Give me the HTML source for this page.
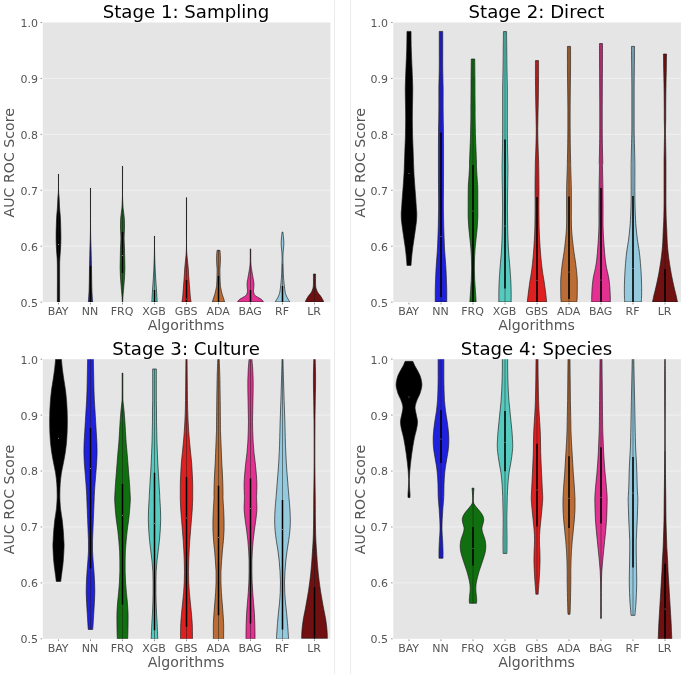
<!DOCTYPE html>
<html lang="en"><head><meta charset="utf-8"><title>AUC ROC violin plots</title>
<style>
html,body{margin:0;padding:0;background:#fff;}
svg{display:block;}
text{font-family:"DejaVu Sans","Liberation Sans",sans-serif;}
.tk{font-size:11px;fill:#555555;}
.lb{font-size:14.15px;fill:#555555;}
.ti{font-size:18.15px;fill:#000000;}
</style></head><body>
<svg width="685" height="674" viewBox="0 0 685 674">
<defs><clipPath id="axclip"><rect x="42.80" y="22.50" width="287.60" height="279.60"/></clipPath></defs>
<rect width="685" height="674" fill="#ffffff"/>
<line x1="334.5" y1="0" x2="334.5" y2="674" stroke="#ececec" stroke-width="1"/>
<line x1="350.5" y1="0" x2="350.5" y2="674" stroke="#ececec" stroke-width="1"/>
<g transform="translate(0.00 0.00)">
<rect x="42.80" y="22.50" width="287.60" height="279.60" fill="#e5e5e5"/>
<line x1="40.60" y1="302.10" x2="42.10" y2="302.10" stroke="#666" stroke-width="0.7"/>
<text class="tk" x="37.90" y="306.50" text-anchor="end">0.5</text>
<line x1="42.80" y1="246.18" x2="330.40" y2="246.18" stroke="#ffffff" stroke-width="0.8" stroke-opacity="0.6"/>
<line x1="40.60" y1="246.18" x2="42.10" y2="246.18" stroke="#666" stroke-width="0.7"/>
<text class="tk" x="37.90" y="250.58" text-anchor="end">0.6</text>
<line x1="42.80" y1="190.26" x2="330.40" y2="190.26" stroke="#ffffff" stroke-width="0.8" stroke-opacity="0.6"/>
<line x1="40.60" y1="190.26" x2="42.10" y2="190.26" stroke="#666" stroke-width="0.7"/>
<text class="tk" x="37.90" y="194.66" text-anchor="end">0.7</text>
<line x1="42.80" y1="134.34" x2="330.40" y2="134.34" stroke="#ffffff" stroke-width="0.8" stroke-opacity="0.6"/>
<line x1="40.60" y1="134.34" x2="42.10" y2="134.34" stroke="#666" stroke-width="0.7"/>
<text class="tk" x="37.90" y="138.74" text-anchor="end">0.8</text>
<line x1="42.80" y1="78.42" x2="330.40" y2="78.42" stroke="#ffffff" stroke-width="0.8" stroke-opacity="0.6"/>
<line x1="40.60" y1="78.42" x2="42.10" y2="78.42" stroke="#666" stroke-width="0.7"/>
<text class="tk" x="37.90" y="82.82" text-anchor="end">0.9</text>
<line x1="40.60" y1="22.50" x2="42.10" y2="22.50" stroke="#666" stroke-width="0.7"/>
<text class="tk" x="37.90" y="26.90" text-anchor="end">1.0</text>
<line x1="58.50" y1="302.70" x2="58.50" y2="304.40" stroke="#666" stroke-width="0.7"/>
<text class="tk" x="58.10" y="315.20" text-anchor="middle">BAY</text>
<line x1="90.50" y1="302.70" x2="90.50" y2="304.40" stroke="#666" stroke-width="0.7"/>
<text class="tk" x="90.10" y="315.20" text-anchor="middle">NN</text>
<line x1="122.50" y1="302.70" x2="122.50" y2="304.40" stroke="#666" stroke-width="0.7"/>
<text class="tk" x="122.10" y="315.20" text-anchor="middle">FRQ</text>
<line x1="154.50" y1="302.70" x2="154.50" y2="304.40" stroke="#666" stroke-width="0.7"/>
<text class="tk" x="154.10" y="315.20" text-anchor="middle">XGB</text>
<line x1="186.50" y1="302.70" x2="186.50" y2="304.40" stroke="#666" stroke-width="0.7"/>
<text class="tk" x="186.10" y="315.20" text-anchor="middle">GBS</text>
<line x1="218.50" y1="302.70" x2="218.50" y2="304.40" stroke="#666" stroke-width="0.7"/>
<text class="tk" x="218.10" y="315.20" text-anchor="middle">ADA</text>
<line x1="250.50" y1="302.70" x2="250.50" y2="304.40" stroke="#666" stroke-width="0.7"/>
<text class="tk" x="250.10" y="315.20" text-anchor="middle">BAG</text>
<line x1="282.50" y1="302.70" x2="282.50" y2="304.40" stroke="#666" stroke-width="0.7"/>
<text class="tk" x="282.10" y="315.20" text-anchor="middle">RF</text>
<line x1="314.50" y1="302.70" x2="314.50" y2="304.40" stroke="#666" stroke-width="0.7"/>
<text class="tk" x="314.10" y="315.20" text-anchor="middle">LR</text>
<g clip-path="url(#axclip)">
<path d="M58.55 174.00 C58.55 176.67 58.45 186.00 58.55 190.00 C58.65 194.00 58.96 195.00 59.14 198.00 C59.31 201.00 59.38 204.67 59.59 208.00 C59.80 211.33 60.17 213.33 60.39 218.00 C60.61 222.67 60.86 231.00 60.89 236.00 C60.92 241.00 60.76 244.33 60.59 248.00 C60.42 251.67 60.05 254.67 59.89 258.00 C59.73 261.33 59.68 260.67 59.64 268.00 C59.60 275.33 59.64 296.33 59.64 302.00 L57.36 302.00 C57.36 296.33 57.40 275.33 57.36 268.00 C57.32 260.67 57.27 261.33 57.11 258.00 C56.95 254.67 56.58 251.67 56.41 248.00 C56.24 244.33 56.08 241.00 56.11 236.00 C56.14 231.00 56.39 222.67 56.61 218.00 C56.83 213.33 57.20 211.33 57.41 208.00 C57.62 204.67 57.69 201.00 57.86 198.00 C58.04 195.00 58.35 194.00 58.45 190.00 C58.55 186.00 58.45 176.67 58.45 174.00 Z" fill="#000000" stroke="#1a1a1a" stroke-width="0.65" stroke-linejoin="round"/>
<line x1="58.50" y1="174.00" x2="58.50" y2="302.00" stroke="#1a1a1a" stroke-width="0.55" stroke-opacity="0.9"/>
<circle cx="58.50" cy="244.60" r="0.5" fill="#ffffff" fill-opacity="0.65"/>
<path d="M90.55 188.00 C90.55 194.67 90.47 218.00 90.55 228.00 C90.63 238.00 90.89 242.00 91.04 248.00 C91.19 254.00 91.31 257.33 91.44 264.00 C91.57 270.67 91.64 281.67 91.84 288.00 C92.04 294.33 92.51 299.67 92.64 302.00 L88.36 302.00 C88.49 299.67 88.96 294.33 89.16 288.00 C89.36 281.67 89.43 270.67 89.56 264.00 C89.69 257.33 89.81 254.00 89.96 248.00 C90.11 242.00 90.37 238.00 90.45 228.00 C90.53 218.00 90.45 194.67 90.45 188.00 Z" fill="#2020DF" stroke="#1a1a1a" stroke-width="0.65" stroke-linejoin="round"/>
<line x1="90.50" y1="188.00" x2="90.50" y2="302.00" stroke="#1a1a1a" stroke-width="0.55" stroke-opacity="0.9"/>
<line x1="90.50" y1="266.00" x2="90.50" y2="302.00" stroke="#000000" stroke-width="1.50"/>
<path d="M122.55 166.00 C122.55 169.67 122.55 182.67 122.55 188.00 C122.55 193.33 122.48 194.67 122.58 198.00 C122.67 201.33 122.80 204.67 123.09 208.00 C123.38 211.33 124.06 214.67 124.29 218.00 C124.52 221.33 124.52 224.67 124.49 228.00 C124.46 231.33 124.09 234.67 124.09 238.00 C124.09 241.33 124.39 244.67 124.49 248.00 C124.59 251.33 124.62 254.67 124.69 258.00 C124.76 261.33 124.92 264.67 124.89 268.00 C124.86 271.33 124.69 274.67 124.49 278.00 C124.29 281.33 123.96 284.67 123.69 288.00 C123.42 291.33 123.01 295.67 122.85 298.00 C122.69 300.33 122.75 301.33 122.73 302.00 L122.27 302.00 C122.25 301.33 122.31 300.33 122.15 298.00 C121.99 295.67 121.58 291.33 121.31 288.00 C121.04 284.67 120.71 281.33 120.51 278.00 C120.31 274.67 120.14 271.33 120.11 268.00 C120.08 264.67 120.24 261.33 120.31 258.00 C120.38 254.67 120.41 251.33 120.51 248.00 C120.61 244.67 120.91 241.33 120.91 238.00 C120.91 234.67 120.54 231.33 120.51 228.00 C120.48 224.67 120.48 221.33 120.71 218.00 C120.94 214.67 121.62 211.33 121.91 208.00 C122.20 204.67 122.33 201.33 122.42 198.00 C122.52 194.67 122.45 193.33 122.45 188.00 C122.45 182.67 122.45 169.67 122.45 166.00 Z" fill="#107010" stroke="#1a1a1a" stroke-width="0.65" stroke-linejoin="round"/>
<line x1="122.50" y1="166.00" x2="122.50" y2="302.00" stroke="#1a1a1a" stroke-width="0.55" stroke-opacity="0.9"/>
<line x1="122.50" y1="232.00" x2="122.50" y2="273.00" stroke="#000000" stroke-width="1.50"/>
<circle cx="122.50" cy="255.40" r="0.5" fill="#ffffff" fill-opacity="0.65"/>
<path d="M154.55 236.00 C154.55 238.00 154.52 244.33 154.55 248.00 C154.58 251.67 154.64 254.67 154.74 258.00 C154.84 261.33 154.99 264.67 155.14 268.00 C155.29 271.33 155.44 274.67 155.64 278.00 C155.84 281.33 156.14 285.00 156.34 288.00 C156.54 291.00 156.71 293.67 156.84 296.00 C156.97 298.33 157.09 301.00 157.14 302.00 L151.86 302.00 C151.91 301.00 152.03 298.33 152.16 296.00 C152.29 293.67 152.46 291.00 152.66 288.00 C152.86 285.00 153.16 281.33 153.36 278.00 C153.56 274.67 153.71 271.33 153.86 268.00 C154.01 264.67 154.16 261.33 154.26 258.00 C154.36 254.67 154.42 251.67 154.45 248.00 C154.48 244.33 154.45 238.00 154.45 236.00 Z" fill="#56CABF" stroke="#1a1a1a" stroke-width="0.65" stroke-linejoin="round"/>
<line x1="154.50" y1="236.00" x2="154.50" y2="302.00" stroke="#1a1a1a" stroke-width="0.55" stroke-opacity="0.9"/>
<line x1="154.50" y1="290.00" x2="154.50" y2="302.00" stroke="#000000" stroke-width="1.50"/>
<path d="M186.55 197.60 C186.55 202.67 186.55 219.60 186.55 228.00 C186.55 236.40 186.44 243.00 186.55 248.00 C186.67 253.00 186.96 254.67 187.24 258.00 C187.52 261.33 187.97 264.67 188.24 268.00 C188.51 271.33 188.61 274.67 188.84 278.00 C189.07 281.33 189.41 285.00 189.64 288.00 C189.87 291.00 190.01 293.67 190.24 296.00 C190.47 298.33 190.91 301.00 191.04 302.00 L181.96 302.00 C182.09 301.00 182.53 298.33 182.76 296.00 C182.99 293.67 183.13 291.00 183.36 288.00 C183.59 285.00 183.93 281.33 184.16 278.00 C184.39 274.67 184.49 271.33 184.76 268.00 C185.03 264.67 185.48 261.33 185.76 258.00 C186.04 254.67 186.33 253.00 186.45 248.00 C186.56 243.00 186.45 236.40 186.45 228.00 C186.45 219.60 186.45 202.67 186.45 197.60 Z" fill="#DF2020" stroke="#1a1a1a" stroke-width="0.65" stroke-linejoin="round"/>
<line x1="186.50" y1="197.60" x2="186.50" y2="302.00" stroke="#1a1a1a" stroke-width="0.55" stroke-opacity="0.9"/>
<line x1="186.50" y1="280.00" x2="186.50" y2="302.00" stroke="#000000" stroke-width="1.50"/>
<circle cx="186.50" cy="299.00" r="0.5" fill="#ffffff" fill-opacity="0.65"/>
<path d="M219.94 250.30 C220.01 251.15 220.27 253.35 220.34 255.40 C220.41 257.45 220.42 260.22 220.34 262.60 C220.26 264.98 219.95 267.32 219.89 269.70 C219.83 272.08 219.92 274.50 219.99 276.90 C220.06 279.30 220.16 282.25 220.29 284.10 C220.41 285.95 220.55 286.80 220.74 288.00 C220.93 289.20 221.19 290.22 221.44 291.30 C221.69 292.38 221.96 293.53 222.24 294.50 C222.52 295.47 222.86 296.27 223.14 297.10 C223.42 297.93 223.71 298.68 223.94 299.50 C224.17 300.32 224.44 301.58 224.54 302.00 L212.46 302.00 C212.56 301.58 212.83 300.32 213.06 299.50 C213.29 298.68 213.58 297.93 213.86 297.10 C214.14 296.27 214.48 295.47 214.76 294.50 C215.04 293.53 215.31 292.38 215.56 291.30 C215.81 290.22 216.07 289.20 216.26 288.00 C216.45 286.80 216.59 285.95 216.71 284.10 C216.84 282.25 216.94 279.30 217.01 276.90 C217.08 274.50 217.17 272.08 217.11 269.70 C217.05 267.32 216.74 264.98 216.66 262.60 C216.58 260.22 216.59 257.45 216.66 255.40 C216.73 253.35 216.99 251.15 217.06 250.30 Z" fill="#BB6D35" stroke="#1a1a1a" stroke-width="0.65" stroke-linejoin="round"/>
<line x1="218.50" y1="250.00" x2="218.50" y2="302.00" stroke="#1a1a1a" stroke-width="0.55" stroke-opacity="0.9"/>
<line x1="218.50" y1="276.00" x2="218.50" y2="302.00" stroke="#000000" stroke-width="1.50"/>
<path d="M250.74 248.90 C250.74 250.42 250.72 255.72 250.74 258.00 C250.76 260.28 250.77 261.27 250.84 262.60 C250.91 263.93 251.01 264.82 251.14 266.00 C251.27 267.18 251.35 267.88 251.64 269.70 C251.93 271.52 252.56 275.02 252.89 276.90 C253.22 278.78 253.46 279.80 253.64 281.00 C253.81 282.20 253.92 282.93 253.94 284.10 C253.96 285.27 253.81 286.80 253.74 288.00 C253.67 289.20 253.41 290.27 253.49 291.30 C253.57 292.33 253.91 293.45 254.24 294.20 C254.57 294.95 254.95 295.32 255.49 295.80 C256.03 296.28 256.56 296.53 257.49 297.10 C258.42 297.67 260.23 298.62 261.09 299.20 C261.95 299.78 262.26 300.13 262.64 300.60 C263.01 301.07 263.22 301.77 263.34 302.00 L237.66 302.00 C237.78 301.77 237.99 301.07 238.36 300.60 C238.74 300.13 239.05 299.78 239.91 299.20 C240.77 298.62 242.58 297.67 243.51 297.10 C244.44 296.53 244.97 296.28 245.51 295.80 C246.05 295.32 246.43 294.95 246.76 294.20 C247.09 293.45 247.43 292.33 247.51 291.30 C247.59 290.27 247.33 289.20 247.26 288.00 C247.19 286.80 247.04 285.27 247.06 284.10 C247.08 282.93 247.19 282.20 247.36 281.00 C247.54 279.80 247.78 278.78 248.11 276.90 C248.44 275.02 249.07 271.52 249.36 269.70 C249.65 267.88 249.73 267.18 249.86 266.00 C249.99 264.82 250.09 263.93 250.16 262.60 C250.23 261.27 250.24 260.28 250.26 258.00 C250.28 255.72 250.26 250.42 250.26 248.90 Z" fill="#E23191" stroke="#1a1a1a" stroke-width="0.65" stroke-linejoin="round"/>
<line x1="250.50" y1="249.00" x2="250.50" y2="302.00" stroke="#1a1a1a" stroke-width="0.55" stroke-opacity="0.9"/>
<line x1="250.50" y1="290.00" x2="250.50" y2="302.00" stroke="#000000" stroke-width="1.50"/>
<path d="M282.84 232.00 C282.96 233.00 283.37 236.00 283.54 238.00 C283.71 240.00 283.87 242.00 283.84 244.00 C283.81 246.00 283.49 248.00 283.34 250.00 C283.19 252.00 282.99 253.67 282.94 256.00 C282.89 258.33 282.96 260.67 283.04 264.00 C283.12 267.33 283.26 272.67 283.44 276.00 C283.62 279.33 283.86 281.33 284.14 284.00 C284.42 286.67 284.76 290.00 285.14 292.00 C285.52 294.00 285.96 294.83 286.44 296.00 C286.92 297.17 287.47 298.00 288.04 299.00 C288.61 300.00 289.54 301.50 289.84 302.00 L275.16 302.00 C275.46 301.50 276.39 300.00 276.96 299.00 C277.53 298.00 278.08 297.17 278.56 296.00 C279.04 294.83 279.48 294.00 279.86 292.00 C280.24 290.00 280.58 286.67 280.86 284.00 C281.14 281.33 281.38 279.33 281.56 276.00 C281.74 272.67 281.88 267.33 281.96 264.00 C282.04 260.67 282.11 258.33 282.06 256.00 C282.01 253.67 281.81 252.00 281.66 250.00 C281.51 248.00 281.19 246.00 281.16 244.00 C281.13 242.00 281.29 240.00 281.46 238.00 C281.63 236.00 282.04 233.00 282.16 232.00 Z" fill="#94C9DE" stroke="#1a1a1a" stroke-width="0.65" stroke-linejoin="round"/>
<line x1="282.50" y1="264.00" x2="282.50" y2="302.00" stroke="#1a1a1a" stroke-width="0.55" stroke-opacity="0.9"/>
<line x1="282.50" y1="286.00" x2="282.50" y2="302.00" stroke="#000000" stroke-width="1.50"/>
<path d="M315.54 274.00 C315.54 275.00 315.52 278.07 315.54 280.00 C315.56 281.93 315.54 284.18 315.64 285.60 C315.74 287.02 315.89 287.55 316.14 288.50 C316.39 289.45 316.74 290.47 317.14 291.30 C317.54 292.13 318.02 292.78 318.54 293.50 C319.06 294.22 319.64 294.77 320.24 295.60 C320.84 296.43 321.66 297.68 322.14 298.50 C322.62 299.32 322.89 299.92 323.14 300.50 C323.39 301.08 323.56 301.75 323.64 302.00 L305.36 302.00 C305.44 301.75 305.61 301.08 305.86 300.50 C306.11 299.92 306.38 299.32 306.86 298.50 C307.34 297.68 308.16 296.43 308.76 295.60 C309.36 294.77 309.94 294.22 310.46 293.50 C310.98 292.78 311.46 292.13 311.86 291.30 C312.26 290.47 312.61 289.45 312.86 288.50 C313.11 287.55 313.26 287.02 313.36 285.60 C313.46 284.18 313.44 281.93 313.46 280.00 C313.48 278.07 313.46 275.00 313.46 274.00 Z" fill="#701010" stroke="#1a1a1a" stroke-width="0.65" stroke-linejoin="round"/>
<line x1="314.50" y1="274.00" x2="314.50" y2="302.00" stroke="#1a1a1a" stroke-width="0.55" stroke-opacity="0.9"/>
</g>
<text class="ti" x="186.00" y="18.00" text-anchor="middle">Stage 1: Sampling</text>
<text class="lb" x="186.00" y="330.10" text-anchor="middle">Algorithms</text>
<text class="lb" transform="translate(14.40 162.80) rotate(-90)" text-anchor="middle">AUC ROC Score</text>
</g>
<g transform="translate(350.50 0.00)">
<rect x="42.80" y="22.50" width="287.60" height="279.60" fill="#e5e5e5"/>
<line x1="40.60" y1="302.10" x2="42.10" y2="302.10" stroke="#666" stroke-width="0.7"/>
<text class="tk" x="37.50" y="306.50" text-anchor="end">0.5</text>
<line x1="42.80" y1="246.18" x2="330.40" y2="246.18" stroke="#ffffff" stroke-width="0.8" stroke-opacity="0.6"/>
<line x1="40.60" y1="246.18" x2="42.10" y2="246.18" stroke="#666" stroke-width="0.7"/>
<text class="tk" x="37.50" y="250.58" text-anchor="end">0.6</text>
<line x1="42.80" y1="190.26" x2="330.40" y2="190.26" stroke="#ffffff" stroke-width="0.8" stroke-opacity="0.6"/>
<line x1="40.60" y1="190.26" x2="42.10" y2="190.26" stroke="#666" stroke-width="0.7"/>
<text class="tk" x="37.50" y="194.66" text-anchor="end">0.7</text>
<line x1="42.80" y1="134.34" x2="330.40" y2="134.34" stroke="#ffffff" stroke-width="0.8" stroke-opacity="0.6"/>
<line x1="40.60" y1="134.34" x2="42.10" y2="134.34" stroke="#666" stroke-width="0.7"/>
<text class="tk" x="37.50" y="138.74" text-anchor="end">0.8</text>
<line x1="42.80" y1="78.42" x2="330.40" y2="78.42" stroke="#ffffff" stroke-width="0.8" stroke-opacity="0.6"/>
<line x1="40.60" y1="78.42" x2="42.10" y2="78.42" stroke="#666" stroke-width="0.7"/>
<text class="tk" x="37.50" y="82.82" text-anchor="end">0.9</text>
<line x1="40.60" y1="22.50" x2="42.10" y2="22.50" stroke="#666" stroke-width="0.7"/>
<text class="tk" x="37.50" y="26.90" text-anchor="end">1.0</text>
<line x1="58.50" y1="302.70" x2="58.50" y2="304.40" stroke="#666" stroke-width="0.7"/>
<text class="tk" x="58.10" y="315.20" text-anchor="middle">BAY</text>
<line x1="90.50" y1="302.70" x2="90.50" y2="304.40" stroke="#666" stroke-width="0.7"/>
<text class="tk" x="90.10" y="315.20" text-anchor="middle">NN</text>
<line x1="122.50" y1="302.70" x2="122.50" y2="304.40" stroke="#666" stroke-width="0.7"/>
<text class="tk" x="122.10" y="315.20" text-anchor="middle">FRQ</text>
<line x1="154.50" y1="302.70" x2="154.50" y2="304.40" stroke="#666" stroke-width="0.7"/>
<text class="tk" x="154.10" y="315.20" text-anchor="middle">XGB</text>
<line x1="186.50" y1="302.70" x2="186.50" y2="304.40" stroke="#666" stroke-width="0.7"/>
<text class="tk" x="186.10" y="315.20" text-anchor="middle">GBS</text>
<line x1="218.50" y1="302.70" x2="218.50" y2="304.40" stroke="#666" stroke-width="0.7"/>
<text class="tk" x="218.10" y="315.20" text-anchor="middle">ADA</text>
<line x1="250.50" y1="302.70" x2="250.50" y2="304.40" stroke="#666" stroke-width="0.7"/>
<text class="tk" x="250.10" y="315.20" text-anchor="middle">BAG</text>
<line x1="282.50" y1="302.70" x2="282.50" y2="304.40" stroke="#666" stroke-width="0.7"/>
<text class="tk" x="282.10" y="315.20" text-anchor="middle">RF</text>
<line x1="314.50" y1="302.70" x2="314.50" y2="304.40" stroke="#666" stroke-width="0.7"/>
<text class="tk" x="314.10" y="315.20" text-anchor="middle">LR</text>
<g clip-path="url(#axclip)">
<path d="M60.54 31.40 C60.57 34.17 60.57 41.90 60.74 48.00 C60.91 54.10 61.34 63.00 61.54 68.00 C61.74 73.00 61.82 74.67 61.94 78.00 C62.06 81.33 62.21 84.67 62.24 88.00 C62.27 91.33 62.19 94.67 62.14 98.00 C62.09 101.33 61.99 104.67 61.94 108.00 C61.89 111.33 61.84 114.67 61.84 118.00 C61.84 121.33 61.89 124.67 61.94 128.00 C61.99 131.33 62.04 134.67 62.14 138.00 C62.24 141.33 62.36 143.00 62.54 148.00 C62.72 153.00 63.04 163.00 63.24 168.00 C63.44 173.00 63.54 174.67 63.74 178.00 C63.94 181.33 64.19 184.67 64.44 188.00 C64.69 191.33 64.98 194.67 65.23 198.00 C65.47 201.33 65.72 205.50 65.89 208.00 C66.07 210.50 66.24 211.00 66.27 213.00 C66.30 215.00 66.29 217.50 66.09 220.00 C65.89 222.50 65.49 225.00 65.09 228.00 C64.69 231.00 64.14 234.67 63.66 238.00 C63.18 241.33 62.62 244.67 62.19 248.00 C61.76 251.33 61.35 255.10 61.08 258.00 C60.80 260.90 60.63 264.17 60.54 265.40 L56.46 265.40 C56.37 264.17 56.20 260.90 55.92 258.00 C55.65 255.10 55.24 251.33 54.81 248.00 C54.38 244.67 53.82 241.33 53.34 238.00 C52.86 234.67 52.31 231.00 51.91 228.00 C51.51 225.00 51.11 222.50 50.91 220.00 C50.71 217.50 50.70 215.00 50.73 213.00 C50.76 211.00 50.93 210.50 51.11 208.00 C51.28 205.50 51.53 201.33 51.77 198.00 C52.02 194.67 52.31 191.33 52.56 188.00 C52.81 184.67 53.06 181.33 53.26 178.00 C53.46 174.67 53.56 173.00 53.76 168.00 C53.96 163.00 54.28 153.00 54.46 148.00 C54.64 143.00 54.76 141.33 54.86 138.00 C54.96 134.67 55.01 131.33 55.06 128.00 C55.11 124.67 55.16 121.33 55.16 118.00 C55.16 114.67 55.11 111.33 55.06 108.00 C55.01 104.67 54.91 101.33 54.86 98.00 C54.81 94.67 54.73 91.33 54.76 88.00 C54.79 84.67 54.94 81.33 55.06 78.00 C55.18 74.67 55.26 73.00 55.46 68.00 C55.66 63.00 56.09 54.10 56.26 48.00 C56.43 41.90 56.43 34.17 56.46 31.40 Z" fill="#000000" stroke="#1a1a1a" stroke-width="0.65" stroke-linejoin="round"/>
<circle cx="58.50" cy="173.40" r="0.5" fill="#ffffff" fill-opacity="0.65"/>
<path d="M92.24 31.40 C92.24 34.17 92.24 41.90 92.24 48.00 C92.24 54.10 92.17 61.33 92.24 68.00 C92.31 74.67 92.57 83.00 92.64 88.00 C92.71 93.00 92.64 94.67 92.64 98.00 C92.64 101.33 92.62 104.67 92.64 108.00 C92.66 111.33 92.69 114.67 92.74 118.00 C92.79 121.33 92.89 123.00 92.94 128.00 C92.99 133.00 93.02 141.33 93.04 148.00 C93.06 154.67 93.05 161.33 93.04 168.00 C93.03 174.67 93.02 181.33 92.99 188.00 C92.96 194.67 92.81 201.33 92.86 208.00 C92.90 214.67 93.06 221.33 93.25 228.00 C93.44 234.67 93.63 241.33 93.99 248.00 C94.35 254.67 95.03 261.33 95.40 268.00 C95.77 274.67 96.06 282.33 96.21 288.00 C96.35 293.67 96.23 299.67 96.24 302.00 L84.76 302.00 C84.77 299.67 84.65 293.67 84.79 288.00 C84.94 282.33 85.23 274.67 85.60 268.00 C85.97 261.33 86.65 254.67 87.01 248.00 C87.37 241.33 87.56 234.67 87.75 228.00 C87.94 221.33 88.10 214.67 88.14 208.00 C88.19 201.33 88.04 194.67 88.01 188.00 C87.98 181.33 87.97 174.67 87.96 168.00 C87.95 161.33 87.94 154.67 87.96 148.00 C87.98 141.33 88.01 133.00 88.06 128.00 C88.11 123.00 88.21 121.33 88.26 118.00 C88.31 114.67 88.34 111.33 88.36 108.00 C88.38 104.67 88.36 101.33 88.36 98.00 C88.36 94.67 88.29 93.00 88.36 88.00 C88.43 83.00 88.69 74.67 88.76 68.00 C88.83 61.33 88.76 54.10 88.76 48.00 C88.76 41.90 88.76 34.17 88.76 31.40 Z" fill="#2020DF" stroke="#1a1a1a" stroke-width="0.65" stroke-linejoin="round"/>
<line x1="90.50" y1="31.40" x2="90.50" y2="302.00" stroke="#1a1a1a" stroke-width="0.55" stroke-opacity="0.9"/>
<line x1="90.50" y1="132.40" x2="90.50" y2="297.00" stroke="#000000" stroke-width="1.50"/>
<circle cx="90.50" cy="236.60" r="0.5" fill="#ffffff" fill-opacity="0.65"/>
<path d="M124.24 59.00 C124.27 62.17 124.39 71.50 124.44 78.00 C124.49 84.50 124.51 93.00 124.54 98.00 C124.57 103.00 124.62 104.67 124.64 108.00 C124.66 111.33 124.57 113.00 124.64 118.00 C124.71 123.00 124.91 133.00 125.04 138.00 C125.17 143.00 125.29 144.00 125.44 148.00 C125.59 152.00 125.84 158.67 125.94 162.00 C126.04 165.33 125.92 165.33 126.04 168.00 C126.16 170.67 126.44 174.67 126.64 178.00 C126.84 181.33 127.12 183.00 127.24 188.00 C127.36 193.00 127.32 203.00 127.33 208.00 C127.34 213.00 127.42 214.67 127.31 218.00 C127.20 221.33 126.96 224.67 126.69 228.00 C126.41 231.33 126.00 234.67 125.66 238.00 C125.32 241.33 124.91 244.67 124.64 248.00 C124.37 251.33 124.19 254.67 124.06 258.00 C123.94 261.33 123.88 264.67 123.89 268.00 C123.89 271.33 123.97 274.67 124.11 278.00 C124.25 281.33 124.48 284.00 124.73 288.00 C124.99 292.00 125.48 299.67 125.63 302.00 L119.37 302.00 C119.52 299.67 120.01 292.00 120.27 288.00 C120.52 284.00 120.75 281.33 120.89 278.00 C121.03 274.67 121.11 271.33 121.11 268.00 C121.12 264.67 121.06 261.33 120.94 258.00 C120.81 254.67 120.63 251.33 120.36 248.00 C120.09 244.67 119.68 241.33 119.34 238.00 C119.00 234.67 118.59 231.33 118.31 228.00 C118.04 224.67 117.80 221.33 117.69 218.00 C117.58 214.67 117.66 213.00 117.67 208.00 C117.68 203.00 117.64 193.00 117.76 188.00 C117.88 183.00 118.16 181.33 118.36 178.00 C118.56 174.67 118.84 170.67 118.96 168.00 C119.08 165.33 118.96 165.33 119.06 162.00 C119.16 158.67 119.41 152.00 119.56 148.00 C119.71 144.00 119.83 143.00 119.96 138.00 C120.09 133.00 120.29 123.00 120.36 118.00 C120.43 113.00 120.34 111.33 120.36 108.00 C120.38 104.67 120.43 103.00 120.46 98.00 C120.49 93.00 120.51 84.50 120.56 78.00 C120.61 71.50 120.73 62.17 120.76 59.00 Z" fill="#107010" stroke="#1a1a1a" stroke-width="0.65" stroke-linejoin="round"/>
<line x1="122.50" y1="59.00" x2="122.50" y2="302.00" stroke="#1a1a1a" stroke-width="0.55" stroke-opacity="0.9"/>
<line x1="122.50" y1="165.00" x2="122.50" y2="302.00" stroke="#000000" stroke-width="1.50"/>
<circle cx="122.50" cy="211.00" r="0.5" fill="#ffffff" fill-opacity="0.65"/>
<path d="M156.04 31.60 C156.07 34.33 156.17 41.93 156.24 48.00 C156.31 54.07 156.34 61.33 156.44 68.00 C156.54 74.67 156.77 81.33 156.84 88.00 C156.91 94.67 156.84 101.33 156.84 108.00 C156.84 114.67 156.81 121.33 156.84 128.00 C156.87 134.67 156.96 142.33 157.04 148.00 C157.12 153.67 157.27 158.67 157.34 162.00 C157.41 165.33 157.47 163.67 157.44 168.00 C157.41 172.33 157.26 181.33 157.17 188.00 C157.08 194.67 156.92 201.33 156.92 208.00 C156.92 214.67 157.02 221.33 157.18 228.00 C157.33 234.67 157.48 241.33 157.85 248.00 C158.23 254.67 159.02 262.33 159.43 268.00 C159.85 273.67 160.15 278.00 160.35 282.00 C160.55 286.00 160.61 288.67 160.66 292.00 C160.71 295.33 160.64 300.33 160.64 302.00 L148.36 302.00 C148.36 300.33 148.29 295.33 148.34 292.00 C148.39 288.67 148.45 286.00 148.65 282.00 C148.85 278.00 149.15 273.67 149.57 268.00 C149.98 262.33 150.77 254.67 151.15 248.00 C151.52 241.33 151.67 234.67 151.82 228.00 C151.98 221.33 152.08 214.67 152.08 208.00 C152.08 201.33 151.92 194.67 151.83 188.00 C151.74 181.33 151.59 172.33 151.56 168.00 C151.53 163.67 151.59 165.33 151.66 162.00 C151.73 158.67 151.88 153.67 151.96 148.00 C152.04 142.33 152.13 134.67 152.16 128.00 C152.19 121.33 152.16 114.67 152.16 108.00 C152.16 101.33 152.09 94.67 152.16 88.00 C152.23 81.33 152.46 74.67 152.56 68.00 C152.66 61.33 152.69 54.07 152.76 48.00 C152.83 41.93 152.93 34.33 152.96 31.60 Z" fill="#56CABF" stroke="#1a1a1a" stroke-width="0.65" stroke-linejoin="round"/>
<line x1="154.50" y1="31.60" x2="154.50" y2="302.00" stroke="#1a1a1a" stroke-width="0.55" stroke-opacity="0.9"/>
<line x1="154.50" y1="139.60" x2="154.50" y2="288.60" stroke="#000000" stroke-width="1.50"/>
<circle cx="154.50" cy="226.00" r="0.5" fill="#ffffff" fill-opacity="0.65"/>
<path d="M188.04 60.60 C188.04 63.50 188.07 71.77 188.04 78.00 C188.01 84.23 187.94 91.33 187.84 98.00 C187.74 104.67 187.54 112.33 187.44 118.00 C187.34 123.67 187.21 127.00 187.24 132.00 C187.27 137.00 187.49 143.00 187.64 148.00 C187.79 153.00 188.04 158.67 188.14 162.00 C188.24 165.33 188.18 163.67 188.24 168.00 C188.30 172.33 188.46 181.33 188.48 188.00 C188.50 194.67 188.34 201.33 188.37 208.00 C188.40 214.67 188.43 221.33 188.64 228.00 C188.85 234.67 189.16 241.33 189.64 248.00 C190.12 254.67 190.82 262.33 191.50 268.00 C192.17 273.67 193.09 278.00 193.68 282.00 C194.27 286.00 194.64 288.67 195.05 292.00 C195.47 295.33 196.00 300.33 196.18 302.00 L176.82 302.00 C177.00 300.33 177.53 295.33 177.95 292.00 C178.36 288.67 178.73 286.00 179.32 282.00 C179.91 278.00 180.83 273.67 181.50 268.00 C182.18 262.33 182.88 254.67 183.36 248.00 C183.84 241.33 184.15 234.67 184.36 228.00 C184.57 221.33 184.60 214.67 184.63 208.00 C184.66 201.33 184.50 194.67 184.52 188.00 C184.54 181.33 184.70 172.33 184.76 168.00 C184.82 163.67 184.76 165.33 184.86 162.00 C184.96 158.67 185.21 153.00 185.36 148.00 C185.51 143.00 185.73 137.00 185.76 132.00 C185.79 127.00 185.66 123.67 185.56 118.00 C185.46 112.33 185.26 104.67 185.16 98.00 C185.06 91.33 184.99 84.23 184.96 78.00 C184.93 71.77 184.96 63.50 184.96 60.60 Z" fill="#DF2020" stroke="#1a1a1a" stroke-width="0.65" stroke-linejoin="round"/>
<line x1="186.50" y1="60.60" x2="186.50" y2="302.00" stroke="#1a1a1a" stroke-width="0.55" stroke-opacity="0.9"/>
<line x1="186.50" y1="197.00" x2="186.50" y2="302.00" stroke="#000000" stroke-width="1.50"/>
<circle cx="186.50" cy="280.40" r="0.5" fill="#ffffff" fill-opacity="0.65"/>
<path d="M220.04 46.40 C220.04 50.00 220.07 61.07 220.04 68.00 C220.01 74.93 219.91 81.33 219.84 88.00 C219.77 94.67 219.67 101.33 219.64 108.00 C219.61 114.67 219.61 121.33 219.64 128.00 C219.67 134.67 219.76 142.33 219.84 148.00 C219.92 153.67 220.07 158.67 220.14 162.00 C220.21 165.33 220.12 163.67 220.24 168.00 C220.36 172.33 220.73 181.33 220.84 188.00 C220.94 194.67 220.86 201.33 220.89 208.00 C220.92 214.67 220.66 221.33 220.99 228.00 C221.33 234.67 222.18 242.00 222.88 248.00 C223.59 254.00 224.61 259.00 225.24 264.00 C225.87 269.00 226.39 274.00 226.65 278.00 C226.91 282.00 226.80 284.67 226.80 288.00 C226.79 291.33 226.73 295.67 226.64 298.00 C226.55 300.33 226.31 301.33 226.24 302.00 L210.76 302.00 C210.69 301.33 210.45 300.33 210.36 298.00 C210.27 295.67 210.21 291.33 210.20 288.00 C210.20 284.67 210.09 282.00 210.35 278.00 C210.61 274.00 211.13 269.00 211.76 264.00 C212.39 259.00 213.41 254.00 214.12 248.00 C214.82 242.00 215.67 234.67 216.01 228.00 C216.34 221.33 216.08 214.67 216.11 208.00 C216.14 201.33 216.06 194.67 216.16 188.00 C216.27 181.33 216.64 172.33 216.76 168.00 C216.88 163.67 216.79 165.33 216.86 162.00 C216.93 158.67 217.08 153.67 217.16 148.00 C217.24 142.33 217.33 134.67 217.36 128.00 C217.39 121.33 217.39 114.67 217.36 108.00 C217.33 101.33 217.23 94.67 217.16 88.00 C217.09 81.33 216.99 74.93 216.96 68.00 C216.93 61.07 216.96 50.00 216.96 46.40 Z" fill="#BB6D35" stroke="#1a1a1a" stroke-width="0.65" stroke-linejoin="round"/>
<line x1="218.50" y1="46.40" x2="218.50" y2="302.00" stroke="#1a1a1a" stroke-width="0.55" stroke-opacity="0.9"/>
<line x1="218.50" y1="196.40" x2="218.50" y2="299.00" stroke="#000000" stroke-width="1.50"/>
<circle cx="218.50" cy="272.00" r="0.5" fill="#ffffff" fill-opacity="0.65"/>
<path d="M252.04 43.60 C252.02 47.67 251.97 60.60 251.94 68.00 C251.91 75.40 251.87 81.33 251.84 88.00 C251.81 94.67 251.76 101.33 251.74 108.00 C251.72 114.67 251.71 121.33 251.74 128.00 C251.77 134.67 251.86 142.33 251.94 148.00 C252.02 153.67 252.22 158.67 252.24 162.00 C252.26 165.33 252.01 163.67 252.04 168.00 C252.07 172.33 252.33 181.33 252.41 188.00 C252.50 194.67 252.53 201.33 252.56 208.00 C252.59 214.67 252.40 221.33 252.59 228.00 C252.79 234.67 253.28 242.00 253.74 248.00 C254.20 254.00 254.61 259.00 255.36 264.00 C256.11 269.00 257.57 274.00 258.24 278.00 C258.91 282.00 259.11 284.67 259.38 288.00 C259.64 291.33 259.76 295.67 259.84 298.00 C259.92 300.33 259.84 301.33 259.84 302.00 L241.16 302.00 C241.16 301.33 241.08 300.33 241.16 298.00 C241.24 295.67 241.36 291.33 241.62 288.00 C241.89 284.67 242.09 282.00 242.76 278.00 C243.43 274.00 244.89 269.00 245.64 264.00 C246.39 259.00 246.80 254.00 247.26 248.00 C247.72 242.00 248.21 234.67 248.41 228.00 C248.60 221.33 248.41 214.67 248.44 208.00 C248.47 201.33 248.50 194.67 248.59 188.00 C248.67 181.33 248.93 172.33 248.96 168.00 C248.99 163.67 248.74 165.33 248.76 162.00 C248.78 158.67 248.98 153.67 249.06 148.00 C249.14 142.33 249.23 134.67 249.26 128.00 C249.29 121.33 249.28 114.67 249.26 108.00 C249.24 101.33 249.19 94.67 249.16 88.00 C249.13 81.33 249.09 75.40 249.06 68.00 C249.03 60.60 248.98 47.67 248.96 43.60 Z" fill="#E23191" stroke="#1a1a1a" stroke-width="0.65" stroke-linejoin="round"/>
<line x1="250.50" y1="43.60" x2="250.50" y2="302.00" stroke="#1a1a1a" stroke-width="0.55" stroke-opacity="0.9"/>
<line x1="250.50" y1="188.00" x2="250.50" y2="302.00" stroke="#000000" stroke-width="1.50"/>
<circle cx="250.50" cy="280.00" r="0.5" fill="#ffffff" fill-opacity="0.65"/>
<path d="M284.04 46.40 C284.01 50.00 283.91 61.07 283.84 68.00 C283.77 74.93 283.67 81.33 283.64 88.00 C283.61 94.67 283.64 101.33 283.64 108.00 C283.64 114.67 283.57 121.33 283.64 128.00 C283.71 134.67 283.92 142.33 284.04 148.00 C284.16 153.67 284.28 158.67 284.34 162.00 C284.40 165.33 284.39 163.67 284.39 168.00 C284.39 172.33 284.34 182.67 284.34 188.00 C284.34 193.33 284.34 196.33 284.39 200.00 C284.44 203.67 284.53 206.73 284.64 210.00 C284.75 213.27 284.89 216.78 285.04 219.60 C285.19 222.42 285.34 224.47 285.54 226.90 C285.74 229.33 285.97 231.77 286.24 234.20 C286.51 236.63 286.81 239.07 287.17 241.50 C287.52 243.93 288.00 246.37 288.36 248.80 C288.72 251.23 289.05 253.67 289.31 256.10 C289.58 258.53 289.77 260.97 289.97 263.40 C290.17 265.83 290.34 268.27 290.49 270.70 C290.64 273.13 290.79 275.57 290.89 278.00 C290.99 280.43 291.05 282.87 291.09 285.30 C291.13 287.73 291.16 290.42 291.14 292.60 C291.12 294.78 291.04 296.83 290.99 298.40 C290.94 299.97 290.87 301.40 290.84 302.00 L274.16 302.00 C274.13 301.40 274.06 299.97 274.01 298.40 C273.96 296.83 273.88 294.78 273.86 292.60 C273.84 290.42 273.87 287.73 273.91 285.30 C273.95 282.87 274.01 280.43 274.11 278.00 C274.21 275.57 274.36 273.13 274.51 270.70 C274.66 268.27 274.83 265.83 275.03 263.40 C275.23 260.97 275.42 258.53 275.69 256.10 C275.95 253.67 276.28 251.23 276.64 248.80 C277.00 246.37 277.48 243.93 277.83 241.50 C278.19 239.07 278.49 236.63 278.76 234.20 C279.03 231.77 279.26 229.33 279.46 226.90 C279.66 224.47 279.81 222.42 279.96 219.60 C280.11 216.78 280.25 213.27 280.36 210.00 C280.47 206.73 280.56 203.67 280.61 200.00 C280.66 196.33 280.66 193.33 280.66 188.00 C280.66 182.67 280.61 172.33 280.61 168.00 C280.61 163.67 280.60 165.33 280.66 162.00 C280.72 158.67 280.84 153.67 280.96 148.00 C281.08 142.33 281.29 134.67 281.36 128.00 C281.43 121.33 281.36 114.67 281.36 108.00 C281.36 101.33 281.39 94.67 281.36 88.00 C281.33 81.33 281.23 74.93 281.16 68.00 C281.09 61.07 280.99 50.00 280.96 46.40 Z" fill="#94C9DE" stroke="#1a1a1a" stroke-width="0.65" stroke-linejoin="round"/>
<line x1="282.50" y1="46.40" x2="282.50" y2="302.00" stroke="#1a1a1a" stroke-width="0.55" stroke-opacity="0.9"/>
<line x1="282.50" y1="196.00" x2="282.50" y2="302.00" stroke="#000000" stroke-width="1.50"/>
<circle cx="282.50" cy="268.60" r="0.5" fill="#ffffff" fill-opacity="0.65"/>
<path d="M316.04 54.00 C316.01 56.33 315.94 62.33 315.84 68.00 C315.74 73.67 315.54 81.33 315.44 88.00 C315.34 94.67 315.27 103.00 315.24 108.00 C315.21 113.00 315.27 114.67 315.24 118.00 C315.21 121.33 315.07 125.00 315.04 128.00 C315.01 131.00 315.01 132.67 315.04 136.00 C315.07 139.33 315.17 143.67 315.24 148.00 C315.31 152.33 315.41 158.67 315.44 162.00 C315.47 165.33 315.44 163.67 315.44 168.00 C315.44 172.33 315.44 181.83 315.44 188.00 C315.44 194.17 315.39 199.67 315.44 205.00 C315.49 210.33 315.61 215.83 315.74 220.00 C315.87 224.17 316.11 227.00 316.24 230.00 C316.37 233.00 316.42 235.33 316.54 238.00 C316.67 240.67 316.71 242.67 316.99 246.00 C317.27 249.33 317.72 254.00 318.24 258.00 C318.76 262.00 319.46 266.33 320.09 270.00 C320.71 273.67 321.30 276.67 321.99 280.00 C322.68 283.33 323.62 287.33 324.24 290.00 C324.87 292.67 325.28 294.00 325.74 296.00 C326.20 298.00 326.78 301.00 326.99 302.00 L302.01 302.00 C302.22 301.00 302.80 298.00 303.26 296.00 C303.72 294.00 304.13 292.67 304.76 290.00 C305.38 287.33 306.32 283.33 307.01 280.00 C307.70 276.67 308.29 273.67 308.91 270.00 C309.54 266.33 310.24 262.00 310.76 258.00 C311.28 254.00 311.73 249.33 312.01 246.00 C312.29 242.67 312.33 240.67 312.46 238.00 C312.58 235.33 312.63 233.00 312.76 230.00 C312.89 227.00 313.13 224.17 313.26 220.00 C313.39 215.83 313.51 210.33 313.56 205.00 C313.61 199.67 313.56 194.17 313.56 188.00 C313.56 181.83 313.56 172.33 313.56 168.00 C313.56 163.67 313.53 165.33 313.56 162.00 C313.59 158.67 313.69 152.33 313.76 148.00 C313.83 143.67 313.93 139.33 313.96 136.00 C313.99 132.67 313.99 131.00 313.96 128.00 C313.93 125.00 313.79 121.33 313.76 118.00 C313.73 114.67 313.79 113.00 313.76 108.00 C313.73 103.00 313.66 94.67 313.56 88.00 C313.46 81.33 313.26 73.67 313.16 68.00 C313.06 62.33 312.99 56.33 312.96 54.00 Z" fill="#701010" stroke="#1a1a1a" stroke-width="0.65" stroke-linejoin="round"/>
<line x1="314.50" y1="219.50" x2="314.50" y2="302.00" stroke="#1a1a1a" stroke-width="0.55" stroke-opacity="0.9"/>
<line x1="314.50" y1="269.00" x2="314.50" y2="302.00" stroke="#000000" stroke-width="1.50"/>
</g>
<text class="ti" x="186.00" y="18.00" text-anchor="middle">Stage 2: Direct</text>
<text class="lb" x="186.00" y="330.10" text-anchor="middle">Algorithms</text>
<text class="lb" transform="translate(14.00 162.80) rotate(-90)" text-anchor="middle">AUC ROC Score</text>
</g>
<g transform="translate(0.00 336.70)">
<rect x="42.80" y="22.50" width="287.60" height="279.60" fill="#e5e5e5"/>
<line x1="40.60" y1="302.10" x2="42.10" y2="302.10" stroke="#666" stroke-width="0.7"/>
<text class="tk" x="37.90" y="306.50" text-anchor="end">0.5</text>
<line x1="42.80" y1="246.18" x2="330.40" y2="246.18" stroke="#ffffff" stroke-width="0.8" stroke-opacity="0.6"/>
<line x1="40.60" y1="246.18" x2="42.10" y2="246.18" stroke="#666" stroke-width="0.7"/>
<text class="tk" x="37.90" y="250.58" text-anchor="end">0.6</text>
<line x1="42.80" y1="190.26" x2="330.40" y2="190.26" stroke="#ffffff" stroke-width="0.8" stroke-opacity="0.6"/>
<line x1="40.60" y1="190.26" x2="42.10" y2="190.26" stroke="#666" stroke-width="0.7"/>
<text class="tk" x="37.90" y="194.66" text-anchor="end">0.7</text>
<line x1="42.80" y1="134.34" x2="330.40" y2="134.34" stroke="#ffffff" stroke-width="0.8" stroke-opacity="0.6"/>
<line x1="40.60" y1="134.34" x2="42.10" y2="134.34" stroke="#666" stroke-width="0.7"/>
<text class="tk" x="37.90" y="138.74" text-anchor="end">0.8</text>
<line x1="42.80" y1="78.42" x2="330.40" y2="78.42" stroke="#ffffff" stroke-width="0.8" stroke-opacity="0.6"/>
<line x1="40.60" y1="78.42" x2="42.10" y2="78.42" stroke="#666" stroke-width="0.7"/>
<text class="tk" x="37.90" y="82.82" text-anchor="end">0.9</text>
<line x1="40.60" y1="22.50" x2="42.10" y2="22.50" stroke="#666" stroke-width="0.7"/>
<text class="tk" x="37.90" y="26.90" text-anchor="end">1.0</text>
<line x1="58.50" y1="302.70" x2="58.50" y2="304.40" stroke="#666" stroke-width="0.7"/>
<text class="tk" x="58.10" y="315.20" text-anchor="middle">BAY</text>
<line x1="90.50" y1="302.70" x2="90.50" y2="304.40" stroke="#666" stroke-width="0.7"/>
<text class="tk" x="90.10" y="315.20" text-anchor="middle">NN</text>
<line x1="122.50" y1="302.70" x2="122.50" y2="304.40" stroke="#666" stroke-width="0.7"/>
<text class="tk" x="122.10" y="315.20" text-anchor="middle">FRQ</text>
<line x1="154.50" y1="302.70" x2="154.50" y2="304.40" stroke="#666" stroke-width="0.7"/>
<text class="tk" x="154.10" y="315.20" text-anchor="middle">XGB</text>
<line x1="186.50" y1="302.70" x2="186.50" y2="304.40" stroke="#666" stroke-width="0.7"/>
<text class="tk" x="186.10" y="315.20" text-anchor="middle">GBS</text>
<line x1="218.50" y1="302.70" x2="218.50" y2="304.40" stroke="#666" stroke-width="0.7"/>
<text class="tk" x="218.10" y="315.20" text-anchor="middle">ADA</text>
<line x1="250.50" y1="302.70" x2="250.50" y2="304.40" stroke="#666" stroke-width="0.7"/>
<text class="tk" x="250.10" y="315.20" text-anchor="middle">BAG</text>
<line x1="282.50" y1="302.70" x2="282.50" y2="304.40" stroke="#666" stroke-width="0.7"/>
<text class="tk" x="282.10" y="315.20" text-anchor="middle">RF</text>
<line x1="314.50" y1="302.70" x2="314.50" y2="304.40" stroke="#666" stroke-width="0.7"/>
<text class="tk" x="314.10" y="315.20" text-anchor="middle">LR</text>
<g clip-path="url(#axclip)">
<path d="M61.17 20.22 C61.21 20.57 61.17 20.22 61.38 22.30 C61.58 24.38 61.99 29.22 62.41 32.69 C62.82 36.15 63.35 39.61 63.87 43.07 C64.39 46.53 65.06 50.00 65.51 53.46 C65.96 56.92 66.27 60.38 66.55 63.84 C66.83 67.30 67.03 70.77 67.17 74.23 C67.31 77.69 67.38 81.15 67.38 84.61 C67.38 88.08 67.31 91.54 67.17 95.00 C67.03 98.46 66.86 101.92 66.55 105.39 C66.24 108.85 65.82 112.31 65.30 115.77 C64.78 119.23 64.09 122.70 63.43 126.16 C62.78 129.62 61.89 133.08 61.36 136.54 C60.82 140.00 60.46 143.81 60.21 146.93 C59.97 150.04 59.95 152.68 59.90 155.24 C59.85 157.80 59.78 159.39 59.90 162.30 C60.02 165.21 60.25 169.22 60.63 172.69 C61.01 176.15 61.75 179.61 62.19 183.07 C62.62 186.53 62.95 190.00 63.23 193.46 C63.50 196.92 63.71 201.07 63.85 203.84 C63.99 206.61 64.16 206.61 64.06 210.07 C63.95 213.54 63.57 220.46 63.23 224.61 C62.88 228.77 62.33 232.23 61.98 235.00 C61.63 237.77 61.36 239.60 61.15 241.23 C60.94 242.86 60.80 244.17 60.73 244.76 L56.27 244.76 C56.20 244.17 56.06 242.86 55.85 241.23 C55.64 239.60 55.37 237.77 55.02 235.00 C54.67 232.23 54.12 228.77 53.77 224.61 C53.43 220.46 53.05 213.54 52.94 210.07 C52.84 206.61 53.01 206.61 53.15 203.84 C53.29 201.07 53.50 196.92 53.77 193.46 C54.05 190.00 54.38 186.53 54.81 183.07 C55.25 179.61 55.99 176.15 56.37 172.69 C56.75 169.22 56.98 165.21 57.10 162.30 C57.22 159.39 57.15 157.80 57.10 155.24 C57.05 152.68 57.03 150.04 56.79 146.93 C56.54 143.81 56.18 140.00 55.64 136.54 C55.11 133.08 54.22 129.62 53.57 126.16 C52.91 122.70 52.22 119.23 51.70 115.77 C51.18 112.31 50.76 108.85 50.45 105.39 C50.14 101.92 49.97 98.46 49.83 95.00 C49.69 91.54 49.62 88.08 49.62 84.61 C49.62 81.15 49.69 77.69 49.83 74.23 C49.97 70.77 50.17 67.30 50.45 63.84 C50.73 60.38 51.04 56.92 51.49 53.46 C51.94 50.00 52.61 46.53 53.13 43.07 C53.65 39.61 54.18 36.15 54.59 32.69 C55.01 29.22 55.42 24.38 55.62 22.30 C55.83 20.22 55.79 20.57 55.83 20.22 Z" fill="#000000" stroke="#1a1a1a" stroke-width="0.65" stroke-linejoin="round"/>
<circle cx="58.50" cy="101.60" r="0.5" fill="#ffffff" fill-opacity="0.65"/>
<path d="M93.36 20.22 C93.36 20.57 93.32 20.22 93.36 22.30 C93.39 24.38 93.49 29.22 93.56 32.69 C93.63 36.15 93.70 39.61 93.77 43.07 C93.84 46.53 93.88 50.00 93.98 53.46 C94.08 56.92 94.22 60.38 94.39 63.84 C94.57 67.30 94.81 70.77 95.02 74.23 C95.23 77.69 95.43 81.15 95.64 84.61 C95.85 88.08 96.06 91.54 96.26 95.00 C96.47 98.46 96.75 101.92 96.89 105.39 C97.03 108.85 97.13 112.31 97.09 115.77 C97.06 119.23 96.89 122.70 96.68 126.16 C96.47 129.62 96.13 133.08 95.85 136.54 C95.57 140.00 95.26 143.47 95.02 146.93 C94.78 150.39 94.53 154.75 94.39 157.31 C94.26 159.88 94.29 159.74 94.19 162.30 C94.08 164.86 93.91 169.22 93.77 172.69 C93.63 176.15 93.49 179.61 93.36 183.07 C93.22 186.53 93.08 190.00 92.94 193.46 C92.80 196.92 92.59 200.38 92.52 203.84 C92.46 207.30 92.42 210.77 92.52 214.23 C92.63 217.69 92.91 221.15 93.15 224.61 C93.39 228.08 93.74 231.54 93.98 235.00 C94.22 238.46 94.46 241.92 94.60 245.39 C94.74 248.85 94.84 252.31 94.81 255.77 C94.78 259.23 94.57 262.70 94.39 266.16 C94.22 269.62 93.98 273.08 93.77 276.54 C93.56 280.00 93.32 284.23 93.15 286.93 C92.97 289.63 92.80 291.78 92.73 292.74 L88.27 292.74 C88.20 291.78 88.03 289.63 87.85 286.93 C87.68 284.23 87.44 280.00 87.23 276.54 C87.02 273.08 86.78 269.62 86.61 266.16 C86.43 262.70 86.22 259.23 86.19 255.77 C86.16 252.31 86.26 248.85 86.40 245.39 C86.54 241.92 86.78 238.46 87.02 235.00 C87.26 231.54 87.61 228.08 87.85 224.61 C88.09 221.15 88.37 217.69 88.48 214.23 C88.58 210.77 88.54 207.30 88.48 203.84 C88.41 200.38 88.20 196.92 88.06 193.46 C87.92 190.00 87.78 186.53 87.64 183.07 C87.51 179.61 87.37 176.15 87.23 172.69 C87.09 169.22 86.92 164.86 86.81 162.30 C86.71 159.74 86.74 159.88 86.61 157.31 C86.47 154.75 86.22 150.39 85.98 146.93 C85.74 143.47 85.43 140.00 85.15 136.54 C84.87 133.08 84.53 129.62 84.32 126.16 C84.11 122.70 83.94 119.23 83.91 115.77 C83.87 112.31 83.97 108.85 84.11 105.39 C84.25 101.92 84.53 98.46 84.74 95.00 C84.94 91.54 85.15 88.08 85.36 84.61 C85.57 81.15 85.77 77.69 85.98 74.23 C86.19 70.77 86.43 67.30 86.61 63.84 C86.78 60.38 86.92 56.92 87.02 53.46 C87.12 50.00 87.16 46.53 87.23 43.07 C87.30 39.61 87.37 36.15 87.44 32.69 C87.51 29.22 87.61 24.38 87.64 22.30 C87.68 20.22 87.64 20.57 87.64 20.22 Z" fill="#2020DF" stroke="#1a1a1a" stroke-width="0.65" stroke-linejoin="round"/>
<line x1="90.50" y1="22.00" x2="90.50" y2="292.70" stroke="#1a1a1a" stroke-width="0.55" stroke-opacity="0.9"/>
<line x1="90.50" y1="91.30" x2="90.50" y2="231.90" stroke="#000000" stroke-width="1.50"/>
<circle cx="90.50" cy="131.80" r="0.5" fill="#ffffff" fill-opacity="0.65"/>
<path d="M122.86 36.42 C122.86 39.96 122.83 52.87 122.86 57.61 C122.90 62.35 122.87 62.11 123.06 64.88 C123.26 67.65 123.76 70.94 124.05 74.23 C124.35 77.52 124.62 81.15 124.86 84.61 C125.09 88.08 125.27 91.54 125.48 95.00 C125.69 98.46 125.84 101.92 126.10 105.39 C126.36 108.85 126.75 112.31 127.05 115.77 C127.34 119.23 127.61 122.70 127.88 126.16 C128.15 129.62 128.41 133.08 128.68 136.54 C128.95 140.00 129.27 143.47 129.51 146.93 C129.75 150.39 129.99 154.75 130.13 157.31 C130.27 159.88 130.41 159.74 130.34 162.30 C130.27 164.86 129.99 169.22 129.72 172.69 C129.44 176.15 129.09 179.61 128.68 183.07 C128.26 186.53 127.64 190.00 127.23 193.46 C126.81 196.92 126.50 200.38 126.19 203.84 C125.88 207.30 125.53 210.77 125.36 214.23 C125.18 217.69 125.18 221.15 125.15 224.61 C125.11 228.08 125.08 231.54 125.15 235.00 C125.22 238.46 125.36 241.92 125.56 245.39 C125.77 248.85 126.08 252.31 126.39 255.77 C126.71 259.23 127.16 262.70 127.43 266.16 C127.71 269.62 127.95 273.08 128.06 276.54 C128.16 280.00 128.09 283.47 128.06 286.93 C128.02 290.39 127.92 294.75 127.85 297.31 C127.78 299.88 127.68 301.47 127.64 302.30 L117.36 302.30 C117.32 301.47 117.22 299.88 117.15 297.31 C117.08 294.75 116.98 290.39 116.94 286.93 C116.91 283.47 116.84 280.00 116.94 276.54 C117.05 273.08 117.29 269.62 117.57 266.16 C117.84 262.70 118.29 259.23 118.61 255.77 C118.92 252.31 119.23 248.85 119.44 245.39 C119.64 241.92 119.78 238.46 119.85 235.00 C119.92 231.54 119.89 228.08 119.85 224.61 C119.82 221.15 119.82 217.69 119.64 214.23 C119.47 210.77 119.12 207.30 118.81 203.84 C118.50 200.38 118.19 196.92 117.77 193.46 C117.36 190.00 116.74 186.53 116.32 183.07 C115.91 179.61 115.56 176.15 115.28 172.69 C115.01 169.22 114.73 164.86 114.66 162.30 C114.59 159.74 114.73 159.88 114.87 157.31 C115.01 154.75 115.25 150.39 115.49 146.93 C115.73 143.47 116.05 140.00 116.32 136.54 C116.59 133.08 116.85 129.62 117.12 126.16 C117.39 122.70 117.66 119.23 117.95 115.77 C118.25 112.31 118.64 108.85 118.90 105.39 C119.16 101.92 119.31 98.46 119.52 95.00 C119.73 91.54 119.91 88.08 120.14 84.61 C120.38 81.15 120.65 77.52 120.95 74.23 C121.24 70.94 121.74 67.65 121.94 64.88 C122.13 62.11 122.10 62.35 122.14 57.61 C122.17 52.87 122.14 39.96 122.14 36.42 Z" fill="#107010" stroke="#1a1a1a" stroke-width="0.65" stroke-linejoin="round"/>
<line x1="122.50" y1="36.40" x2="122.50" y2="302.00" stroke="#1a1a1a" stroke-width="0.55" stroke-opacity="0.9"/>
<line x1="122.50" y1="147.30" x2="122.50" y2="267.80" stroke="#000000" stroke-width="1.50"/>
<circle cx="122.50" cy="178.50" r="0.5" fill="#ffffff" fill-opacity="0.65"/>
<path d="M156.32 32.27 C156.32 34.07 156.32 39.54 156.32 43.07 C156.32 46.60 156.32 50.00 156.32 53.46 C156.32 56.92 156.28 60.38 156.32 63.84 C156.35 67.30 156.49 70.77 156.52 74.23 C156.56 77.69 156.49 81.15 156.52 84.61 C156.56 88.08 156.66 91.54 156.73 95.00 C156.80 98.46 156.84 101.92 156.94 105.39 C157.04 108.85 157.22 112.31 157.36 115.77 C157.49 119.23 157.60 122.70 157.77 126.16 C157.94 129.62 158.19 133.08 158.39 136.54 C158.60 140.00 158.81 143.47 159.02 146.93 C159.23 150.39 159.50 154.75 159.64 157.31 C159.78 159.88 159.71 159.74 159.85 162.30 C159.99 164.86 160.33 169.22 160.47 172.69 C160.61 176.15 160.71 179.61 160.68 183.07 C160.64 186.53 160.47 190.00 160.26 193.46 C160.06 196.92 159.78 200.38 159.43 203.84 C159.09 207.30 158.60 210.77 158.19 214.23 C157.77 217.69 157.29 221.15 156.94 224.61 C156.59 228.08 156.28 231.54 156.11 235.00 C155.94 238.46 155.94 241.92 155.90 245.39 C155.87 248.85 155.87 252.31 155.90 255.77 C155.94 259.23 156.01 262.70 156.11 266.16 C156.21 269.62 156.35 273.08 156.52 276.54 C156.70 280.00 156.97 283.47 157.15 286.93 C157.32 290.39 157.46 294.75 157.56 297.31 C157.67 299.88 157.74 301.47 157.77 302.30 L151.23 302.30 C151.26 301.47 151.33 299.88 151.44 297.31 C151.54 294.75 151.68 290.39 151.85 286.93 C152.03 283.47 152.30 280.00 152.48 276.54 C152.65 273.08 152.79 269.62 152.89 266.16 C152.99 262.70 153.06 259.23 153.10 255.77 C153.13 252.31 153.13 248.85 153.10 245.39 C153.06 241.92 153.06 238.46 152.89 235.00 C152.72 231.54 152.41 228.08 152.06 224.61 C151.71 221.15 151.23 217.69 150.81 214.23 C150.40 210.77 149.91 207.30 149.57 203.84 C149.22 200.38 148.94 196.92 148.74 193.46 C148.53 190.00 148.36 186.53 148.32 183.07 C148.29 179.61 148.39 176.15 148.53 172.69 C148.67 169.22 149.01 164.86 149.15 162.30 C149.29 159.74 149.22 159.88 149.36 157.31 C149.50 154.75 149.77 150.39 149.98 146.93 C150.19 143.47 150.40 140.00 150.61 136.54 C150.81 133.08 151.06 129.62 151.23 126.16 C151.40 122.70 151.51 119.23 151.64 115.77 C151.78 112.31 151.96 108.85 152.06 105.39 C152.16 101.92 152.20 98.46 152.27 95.00 C152.34 91.54 152.44 88.08 152.48 84.61 C152.51 81.15 152.44 77.69 152.48 74.23 C152.51 70.77 152.65 67.30 152.68 63.84 C152.72 60.38 152.68 56.92 152.68 53.46 C152.68 50.00 152.68 46.60 152.68 43.07 C152.68 39.54 152.68 34.07 152.68 32.27 Z" fill="#56CABF" stroke="#1a1a1a" stroke-width="0.65" stroke-linejoin="round"/>
<line x1="154.50" y1="32.30" x2="154.50" y2="302.00" stroke="#1a1a1a" stroke-width="0.55" stroke-opacity="0.9"/>
<line x1="154.50" y1="136.10" x2="154.50" y2="293.60" stroke="#000000" stroke-width="1.50"/>
<circle cx="154.50" cy="186.60" r="0.5" fill="#ffffff" fill-opacity="0.65"/>
<path d="M187.07 20.22 C187.07 20.57 187.04 18.49 187.07 22.30 C187.11 26.11 187.21 36.15 187.28 43.07 C187.35 50.00 187.42 58.65 187.49 63.84 C187.56 69.04 187.59 70.77 187.69 74.23 C187.80 77.69 187.94 81.15 188.11 84.61 C188.28 88.08 188.49 91.54 188.73 95.00 C188.97 98.46 189.25 101.92 189.56 105.39 C189.88 108.85 190.26 112.31 190.60 115.77 C190.95 119.23 191.36 122.70 191.64 126.16 C191.92 129.62 192.09 133.08 192.26 136.54 C192.44 140.00 192.61 143.47 192.68 146.93 C192.75 150.39 192.68 154.75 192.68 157.31 C192.68 159.88 192.75 159.74 192.68 162.30 C192.61 164.86 192.47 169.22 192.26 172.69 C192.06 176.15 191.71 179.61 191.43 183.07 C191.16 186.53 190.88 190.00 190.60 193.46 C190.33 196.92 190.01 200.38 189.77 203.84 C189.53 207.30 189.32 210.77 189.15 214.23 C188.97 217.69 188.84 221.15 188.73 224.61 C188.63 228.08 188.52 231.54 188.52 235.00 C188.52 238.46 188.59 241.92 188.73 245.39 C188.87 248.85 189.08 252.31 189.36 255.77 C189.63 259.23 190.05 262.70 190.39 266.16 C190.74 269.62 191.12 273.08 191.43 276.54 C191.74 280.00 192.09 283.47 192.26 286.93 C192.44 290.39 192.44 294.75 192.47 297.31 C192.51 299.88 192.47 301.47 192.47 302.30 L180.53 302.30 C180.53 301.47 180.49 299.88 180.53 297.31 C180.56 294.75 180.56 290.39 180.74 286.93 C180.91 283.47 181.26 280.00 181.57 276.54 C181.88 273.08 182.26 269.62 182.61 266.16 C182.95 262.70 183.37 259.23 183.64 255.77 C183.92 252.31 184.13 248.85 184.27 245.39 C184.41 241.92 184.48 238.46 184.48 235.00 C184.48 231.54 184.37 228.08 184.27 224.61 C184.16 221.15 184.03 217.69 183.85 214.23 C183.68 210.77 183.47 207.30 183.23 203.84 C182.99 200.38 182.67 196.92 182.40 193.46 C182.12 190.00 181.84 186.53 181.57 183.07 C181.29 179.61 180.94 176.15 180.74 172.69 C180.53 169.22 180.39 164.86 180.32 162.30 C180.25 159.74 180.32 159.88 180.32 157.31 C180.32 154.75 180.25 150.39 180.32 146.93 C180.39 143.47 180.56 140.00 180.74 136.54 C180.91 133.08 181.08 129.62 181.36 126.16 C181.64 122.70 182.05 119.23 182.40 115.77 C182.74 112.31 183.12 108.85 183.44 105.39 C183.75 101.92 184.03 98.46 184.27 95.00 C184.51 91.54 184.72 88.08 184.89 84.61 C185.06 81.15 185.20 77.69 185.31 74.23 C185.41 70.77 185.44 69.04 185.51 63.84 C185.58 58.65 185.65 50.00 185.72 43.07 C185.79 36.15 185.89 26.11 185.93 22.30 C185.96 18.49 185.93 20.57 185.93 20.22 Z" fill="#DF2020" stroke="#1a1a1a" stroke-width="0.65" stroke-linejoin="round"/>
<line x1="186.50" y1="22.00" x2="186.50" y2="302.00" stroke="#1a1a1a" stroke-width="0.55" stroke-opacity="0.9"/>
<line x1="186.50" y1="140.30" x2="186.50" y2="290.00" stroke="#000000" stroke-width="1.50"/>
<circle cx="186.50" cy="181.40" r="0.5" fill="#ffffff" fill-opacity="0.65"/>
<path d="M219.07 20.22 C219.09 20.57 219.09 20.22 219.17 22.30 C219.26 24.38 219.47 29.22 219.59 32.69 C219.71 36.15 219.80 37.88 219.90 43.07 C220.01 48.26 220.13 56.92 220.21 63.84 C220.30 70.77 220.37 79.42 220.42 84.61 C220.47 89.81 220.44 91.54 220.52 95.00 C220.61 98.46 220.80 101.92 220.94 105.39 C221.08 108.85 221.22 112.31 221.36 115.77 C221.49 119.23 221.60 122.70 221.77 126.16 C221.94 129.62 222.22 133.08 222.39 136.54 C222.57 140.00 222.71 143.47 222.81 146.93 C222.91 150.39 222.98 154.75 223.02 157.31 C223.05 159.88 222.91 159.74 223.02 162.30 C223.12 164.86 223.47 169.22 223.64 172.69 C223.81 176.15 223.99 179.61 224.06 183.07 C224.13 186.53 224.16 190.00 224.06 193.46 C223.95 196.92 223.71 200.38 223.43 203.84 C223.16 207.30 222.71 210.77 222.39 214.23 C222.08 217.69 221.81 221.15 221.56 224.61 C221.32 228.08 221.04 231.54 220.94 235.00 C220.84 238.46 220.87 241.92 220.94 245.39 C221.01 248.85 221.15 252.31 221.36 255.77 C221.56 259.23 221.91 262.70 222.19 266.16 C222.46 269.62 222.78 273.08 223.02 276.54 C223.26 280.00 223.54 283.47 223.64 286.93 C223.74 290.39 223.64 294.75 223.64 297.31 C223.64 299.88 223.64 301.47 223.64 302.30 L213.36 302.30 C213.36 301.47 213.36 299.88 213.36 297.31 C213.36 294.75 213.26 290.39 213.36 286.93 C213.46 283.47 213.74 280.00 213.98 276.54 C214.22 273.08 214.54 269.62 214.81 266.16 C215.09 262.70 215.44 259.23 215.64 255.77 C215.85 252.31 215.99 248.85 216.06 245.39 C216.13 241.92 216.16 238.46 216.06 235.00 C215.96 231.54 215.68 228.08 215.44 224.61 C215.19 221.15 214.92 217.69 214.61 214.23 C214.29 210.77 213.84 207.30 213.57 203.84 C213.29 200.38 213.05 196.92 212.94 193.46 C212.84 190.00 212.87 186.53 212.94 183.07 C213.01 179.61 213.19 176.15 213.36 172.69 C213.53 169.22 213.88 164.86 213.98 162.30 C214.09 159.74 213.95 159.88 213.98 157.31 C214.02 154.75 214.09 150.39 214.19 146.93 C214.29 143.47 214.43 140.00 214.61 136.54 C214.78 133.08 215.06 129.62 215.23 126.16 C215.40 122.70 215.51 119.23 215.64 115.77 C215.78 112.31 215.92 108.85 216.06 105.39 C216.20 101.92 216.39 98.46 216.48 95.00 C216.56 91.54 216.53 89.81 216.58 84.61 C216.63 79.42 216.70 70.77 216.79 63.84 C216.87 56.92 216.99 48.26 217.10 43.07 C217.20 37.88 217.29 36.15 217.41 32.69 C217.53 29.22 217.74 24.38 217.83 22.30 C217.91 20.22 217.91 20.57 217.93 20.22 Z" fill="#BB6D35" stroke="#1a1a1a" stroke-width="0.65" stroke-linejoin="round"/>
<line x1="218.50" y1="22.00" x2="218.50" y2="302.00" stroke="#1a1a1a" stroke-width="0.55" stroke-opacity="0.9"/>
<line x1="218.50" y1="149.00" x2="218.50" y2="278.60" stroke="#000000" stroke-width="1.50"/>
<circle cx="218.50" cy="200.70" r="0.5" fill="#ffffff" fill-opacity="0.65"/>
<path d="M251.69 20.22 C251.73 20.57 251.73 20.22 251.90 22.30 C252.07 24.38 252.52 29.22 252.73 32.69 C252.94 36.15 253.08 39.61 253.15 43.07 C253.22 46.53 253.18 50.00 253.15 53.46 C253.11 56.92 253.01 60.38 252.94 63.84 C252.87 67.30 252.80 70.77 252.73 74.23 C252.66 77.69 252.52 81.15 252.52 84.61 C252.52 88.08 252.63 91.54 252.73 95.00 C252.84 98.46 252.94 101.92 253.15 105.39 C253.36 108.85 253.63 112.31 253.98 115.77 C254.33 119.23 254.84 122.70 255.23 126.16 C255.61 129.62 255.99 133.08 256.26 136.54 C256.54 140.00 256.82 143.47 256.89 146.93 C256.96 150.39 256.73 154.75 256.68 157.31 C256.63 159.88 256.54 159.74 256.58 162.30 C256.61 164.86 257.01 169.22 256.89 172.69 C256.77 176.15 256.26 179.61 255.85 183.07 C255.43 186.53 254.84 190.00 254.39 193.46 C253.94 196.92 253.49 200.38 253.15 203.84 C252.80 207.30 252.52 210.77 252.32 214.23 C252.11 217.69 251.97 221.15 251.90 224.61 C251.83 228.08 251.87 231.54 251.90 235.00 C251.94 238.46 251.97 241.92 252.11 245.39 C252.25 248.85 252.49 252.31 252.73 255.77 C252.97 259.23 253.29 262.70 253.56 266.16 C253.84 269.62 254.19 273.08 254.39 276.54 C254.60 280.00 254.71 283.47 254.81 286.93 C254.91 290.39 254.98 294.75 255.02 297.31 C255.05 299.88 255.02 301.47 255.02 302.30 L245.98 302.30 C245.98 301.47 245.95 299.88 245.98 297.31 C246.02 294.75 246.09 290.39 246.19 286.93 C246.29 283.47 246.40 280.00 246.61 276.54 C246.81 273.08 247.16 269.62 247.44 266.16 C247.71 262.70 248.03 259.23 248.27 255.77 C248.51 252.31 248.75 248.85 248.89 245.39 C249.03 241.92 249.06 238.46 249.10 235.00 C249.13 231.54 249.17 228.08 249.10 224.61 C249.03 221.15 248.89 217.69 248.68 214.23 C248.48 210.77 248.20 207.30 247.85 203.84 C247.51 200.38 247.06 196.92 246.61 193.46 C246.16 190.00 245.57 186.53 245.15 183.07 C244.74 179.61 244.23 176.15 244.11 172.69 C243.99 169.22 244.39 164.86 244.42 162.30 C244.46 159.74 244.37 159.88 244.32 157.31 C244.27 154.75 244.04 150.39 244.11 146.93 C244.18 143.47 244.46 140.00 244.74 136.54 C245.01 133.08 245.39 129.62 245.77 126.16 C246.16 122.70 246.67 119.23 247.02 115.77 C247.37 112.31 247.64 108.85 247.85 105.39 C248.06 101.92 248.16 98.46 248.27 95.00 C248.37 91.54 248.48 88.08 248.48 84.61 C248.48 81.15 248.34 77.69 248.27 74.23 C248.20 70.77 248.13 67.30 248.06 63.84 C247.99 60.38 247.89 56.92 247.85 53.46 C247.82 50.00 247.78 46.53 247.85 43.07 C247.92 39.61 248.06 36.15 248.27 32.69 C248.48 29.22 248.93 24.38 249.10 22.30 C249.27 20.22 249.27 20.57 249.31 20.22 Z" fill="#E23191" stroke="#1a1a1a" stroke-width="0.65" stroke-linejoin="round"/>
<line x1="250.50" y1="22.00" x2="250.50" y2="302.00" stroke="#1a1a1a" stroke-width="0.55" stroke-opacity="0.9"/>
<line x1="250.50" y1="141.70" x2="250.50" y2="286.90" stroke="#000000" stroke-width="1.50"/>
<circle cx="250.50" cy="171.60" r="0.5" fill="#ffffff" fill-opacity="0.65"/>
<path d="M282.97 20.22 C282.97 20.57 282.88 18.49 282.97 22.30 C283.05 26.11 283.30 36.15 283.49 43.07 C283.68 50.00 283.88 56.92 284.11 63.84 C284.33 70.77 284.63 77.69 284.84 84.61 C285.04 91.54 285.20 100.19 285.36 105.39 C285.51 110.58 285.62 112.31 285.77 115.77 C285.93 119.23 286.08 122.70 286.29 126.16 C286.50 129.62 286.76 133.08 287.02 136.54 C287.28 140.00 287.57 143.47 287.85 146.93 C288.13 150.39 288.47 154.75 288.68 157.31 C288.89 159.88 288.89 159.74 289.09 162.30 C289.30 164.86 289.72 169.22 289.93 172.69 C290.13 176.15 290.34 179.61 290.34 183.07 C290.34 186.53 290.20 190.00 289.93 193.46 C289.65 196.92 289.16 200.38 288.68 203.84 C288.19 207.30 287.50 210.77 287.02 214.23 C286.53 217.69 286.12 221.15 285.77 224.61 C285.42 228.08 285.15 231.54 284.94 235.00 C284.73 238.46 284.56 241.92 284.52 245.39 C284.49 248.85 284.58 252.31 284.73 255.77 C284.89 259.23 285.15 262.70 285.46 266.16 C285.77 269.62 286.26 273.08 286.60 276.54 C286.95 280.00 287.26 283.47 287.54 286.93 C287.81 290.39 288.09 294.75 288.26 297.31 C288.44 299.88 288.52 301.47 288.58 302.30 L276.42 302.30 C276.48 301.47 276.56 299.88 276.74 297.31 C276.91 294.75 277.19 290.39 277.46 286.93 C277.74 283.47 278.05 280.00 278.40 276.54 C278.74 273.08 279.23 269.62 279.54 266.16 C279.85 262.70 280.11 259.23 280.27 255.77 C280.42 252.31 280.51 248.85 280.48 245.39 C280.44 241.92 280.27 238.46 280.06 235.00 C279.85 231.54 279.58 228.08 279.23 224.61 C278.88 221.15 278.47 217.69 277.98 214.23 C277.50 210.77 276.81 207.30 276.32 203.84 C275.84 200.38 275.35 196.92 275.07 193.46 C274.80 190.00 274.66 186.53 274.66 183.07 C274.66 179.61 274.87 176.15 275.07 172.69 C275.28 169.22 275.70 164.86 275.91 162.30 C276.11 159.74 276.11 159.88 276.32 157.31 C276.53 154.75 276.87 150.39 277.15 146.93 C277.43 143.47 277.72 140.00 277.98 136.54 C278.24 133.08 278.50 129.62 278.71 126.16 C278.92 122.70 279.07 119.23 279.23 115.77 C279.38 112.31 279.49 110.58 279.64 105.39 C279.80 100.19 279.96 91.54 280.16 84.61 C280.37 77.69 280.67 70.77 280.89 63.84 C281.12 56.92 281.32 50.00 281.51 43.07 C281.70 36.15 281.95 26.11 282.03 22.30 C282.12 18.49 282.03 20.57 282.03 20.22 Z" fill="#94C9DE" stroke="#1a1a1a" stroke-width="0.65" stroke-linejoin="round"/>
<line x1="282.50" y1="22.00" x2="282.50" y2="302.00" stroke="#1a1a1a" stroke-width="0.55" stroke-opacity="0.9"/>
<line x1="282.50" y1="163.30" x2="282.50" y2="292.70" stroke="#000000" stroke-width="1.50"/>
<circle cx="282.50" cy="192.80" r="0.5" fill="#ffffff" fill-opacity="0.65"/>
<path d="M315.07 20.22 C315.09 20.57 315.11 20.22 315.17 22.30 C315.24 24.38 315.42 29.22 315.49 32.69 C315.56 36.15 315.59 39.61 315.59 43.07 C315.59 46.53 315.54 50.00 315.49 53.46 C315.43 56.92 315.37 58.65 315.28 63.84 C315.19 69.04 315.04 77.69 314.97 84.61 C314.90 91.54 314.88 98.46 314.86 105.39 C314.85 112.31 314.83 119.23 314.86 126.16 C314.90 133.08 315.00 140.90 315.07 146.93 C315.14 152.95 315.22 156.24 315.28 162.30 C315.33 168.36 315.32 176.83 315.40 183.30 C315.48 189.77 315.52 195.17 315.75 201.10 C315.99 207.04 316.54 214.46 316.82 218.91 C317.10 223.36 317.21 224.84 317.44 227.81 C317.68 230.77 317.93 233.74 318.25 236.71 C318.56 239.68 318.93 242.64 319.31 245.61 C319.70 248.58 320.10 251.55 320.56 254.51 C321.02 257.48 321.55 260.45 322.07 263.41 C322.59 266.38 323.11 269.35 323.68 272.32 C324.24 275.28 324.95 278.25 325.46 281.22 C325.96 284.18 326.41 287.45 326.70 290.12 C327.00 292.79 327.12 295.31 327.24 297.24 C327.35 299.17 327.38 300.95 327.41 301.69 L301.59 301.69 C301.62 300.95 301.65 299.17 301.76 297.24 C301.88 295.31 302.00 292.79 302.30 290.12 C302.59 287.45 303.04 284.18 303.54 281.22 C304.05 278.25 304.76 275.28 305.32 272.32 C305.89 269.35 306.41 266.38 306.93 263.41 C307.45 260.45 307.98 257.48 308.44 254.51 C308.90 251.55 309.30 248.58 309.69 245.61 C310.07 242.64 310.44 239.68 310.75 236.71 C311.07 233.74 311.32 230.77 311.56 227.81 C311.79 224.84 311.90 223.36 312.18 218.91 C312.46 214.46 313.01 207.04 313.25 201.10 C313.48 195.17 313.52 189.77 313.60 183.30 C313.68 176.83 313.67 168.36 313.72 162.30 C313.78 156.24 313.86 152.95 313.93 146.93 C314.00 140.90 314.10 133.08 314.14 126.16 C314.17 119.23 314.15 112.31 314.14 105.39 C314.12 98.46 314.10 91.54 314.03 84.61 C313.96 77.69 313.81 69.04 313.72 63.84 C313.63 58.65 313.57 56.92 313.51 53.46 C313.46 50.00 313.41 46.53 313.41 43.07 C313.41 39.61 313.44 36.15 313.51 32.69 C313.58 29.22 313.76 24.38 313.83 22.30 C313.89 20.22 313.91 20.57 313.93 20.22 Z" fill="#701010" stroke="#1a1a1a" stroke-width="0.65" stroke-linejoin="round"/>
<line x1="314.50" y1="173.00" x2="314.50" y2="302.00" stroke="#1a1a1a" stroke-width="0.55" stroke-opacity="0.9"/>
<line x1="314.50" y1="250.60" x2="314.50" y2="302.00" stroke="#000000" stroke-width="1.50"/>
</g>
<text class="ti" x="186.00" y="18.00" text-anchor="middle">Stage 3: Culture</text>
<text class="lb" x="186.00" y="330.10" text-anchor="middle">Algorithms</text>
<text class="lb" transform="translate(14.40 162.80) rotate(-90)" text-anchor="middle">AUC ROC Score</text>
</g>
<g transform="translate(350.50 336.70)">
<rect x="42.80" y="22.50" width="287.60" height="279.60" fill="#e5e5e5"/>
<line x1="40.60" y1="302.10" x2="42.10" y2="302.10" stroke="#666" stroke-width="0.7"/>
<text class="tk" x="37.50" y="306.50" text-anchor="end">0.5</text>
<line x1="42.80" y1="246.18" x2="330.40" y2="246.18" stroke="#ffffff" stroke-width="0.8" stroke-opacity="0.6"/>
<line x1="40.60" y1="246.18" x2="42.10" y2="246.18" stroke="#666" stroke-width="0.7"/>
<text class="tk" x="37.50" y="250.58" text-anchor="end">0.6</text>
<line x1="42.80" y1="190.26" x2="330.40" y2="190.26" stroke="#ffffff" stroke-width="0.8" stroke-opacity="0.6"/>
<line x1="40.60" y1="190.26" x2="42.10" y2="190.26" stroke="#666" stroke-width="0.7"/>
<text class="tk" x="37.50" y="194.66" text-anchor="end">0.7</text>
<line x1="42.80" y1="134.34" x2="330.40" y2="134.34" stroke="#ffffff" stroke-width="0.8" stroke-opacity="0.6"/>
<line x1="40.60" y1="134.34" x2="42.10" y2="134.34" stroke="#666" stroke-width="0.7"/>
<text class="tk" x="37.50" y="138.74" text-anchor="end">0.8</text>
<line x1="42.80" y1="78.42" x2="330.40" y2="78.42" stroke="#ffffff" stroke-width="0.8" stroke-opacity="0.6"/>
<line x1="40.60" y1="78.42" x2="42.10" y2="78.42" stroke="#666" stroke-width="0.7"/>
<text class="tk" x="37.50" y="82.82" text-anchor="end">0.9</text>
<line x1="40.60" y1="22.50" x2="42.10" y2="22.50" stroke="#666" stroke-width="0.7"/>
<text class="tk" x="37.50" y="26.90" text-anchor="end">1.0</text>
<line x1="58.50" y1="302.70" x2="58.50" y2="304.40" stroke="#666" stroke-width="0.7"/>
<text class="tk" x="58.10" y="315.20" text-anchor="middle">BAY</text>
<line x1="90.50" y1="302.70" x2="90.50" y2="304.40" stroke="#666" stroke-width="0.7"/>
<text class="tk" x="90.10" y="315.20" text-anchor="middle">NN</text>
<line x1="122.50" y1="302.70" x2="122.50" y2="304.40" stroke="#666" stroke-width="0.7"/>
<text class="tk" x="122.10" y="315.20" text-anchor="middle">FRQ</text>
<line x1="154.50" y1="302.70" x2="154.50" y2="304.40" stroke="#666" stroke-width="0.7"/>
<text class="tk" x="154.10" y="315.20" text-anchor="middle">XGB</text>
<line x1="186.50" y1="302.70" x2="186.50" y2="304.40" stroke="#666" stroke-width="0.7"/>
<text class="tk" x="186.10" y="315.20" text-anchor="middle">GBS</text>
<line x1="218.50" y1="302.70" x2="218.50" y2="304.40" stroke="#666" stroke-width="0.7"/>
<text class="tk" x="218.10" y="315.20" text-anchor="middle">ADA</text>
<line x1="250.50" y1="302.70" x2="250.50" y2="304.40" stroke="#666" stroke-width="0.7"/>
<text class="tk" x="250.10" y="315.20" text-anchor="middle">BAG</text>
<line x1="282.50" y1="302.70" x2="282.50" y2="304.40" stroke="#666" stroke-width="0.7"/>
<text class="tk" x="282.10" y="315.20" text-anchor="middle">RF</text>
<line x1="314.50" y1="302.70" x2="314.50" y2="304.40" stroke="#666" stroke-width="0.7"/>
<text class="tk" x="314.10" y="315.20" text-anchor="middle">LR</text>
<g clip-path="url(#axclip)">
<path d="M62.39 24.66 C62.69 25.36 63.48 27.43 64.17 28.82 C64.87 30.20 65.66 31.29 66.55 32.97 C67.44 34.66 68.76 36.93 69.52 38.91 C70.27 40.89 70.76 43.06 71.06 44.84 C71.36 46.62 71.55 47.61 71.30 49.59 C71.04 51.57 70.26 54.54 69.52 56.71 C68.77 58.89 67.62 60.67 66.85 62.65 C66.07 64.63 65.25 67.00 64.89 68.58 C64.52 70.16 64.54 70.76 64.65 72.14 C64.76 73.53 65.17 75.03 65.54 76.89 C65.91 78.75 66.61 81.67 66.85 83.30 C67.08 84.93 67.12 85.09 66.96 86.69 C66.81 88.30 66.44 90.50 65.93 92.92 C65.41 95.35 64.44 98.46 63.85 101.23 C63.26 104.00 62.84 106.77 62.39 109.54 C61.94 112.31 61.53 115.08 61.15 117.85 C60.77 120.62 60.42 123.39 60.11 126.16 C59.80 128.93 59.49 131.70 59.28 134.47 C59.07 137.24 58.90 140.00 58.86 142.77 C58.83 145.54 58.97 148.66 59.07 151.08 C59.17 153.51 59.42 155.69 59.49 157.31 C59.56 158.94 59.49 160.26 59.49 160.85 L57.51 160.85 C57.51 160.26 57.44 158.94 57.51 157.31 C57.58 155.69 57.83 153.51 57.93 151.08 C58.03 148.66 58.17 145.54 58.14 142.77 C58.10 140.00 57.93 137.24 57.72 134.47 C57.51 131.70 57.20 128.93 56.89 126.16 C56.58 123.39 56.23 120.62 55.85 117.85 C55.47 115.08 55.06 112.31 54.61 109.54 C54.16 106.77 53.74 104.00 53.15 101.23 C52.56 98.46 51.59 95.35 51.07 92.92 C50.56 90.50 50.19 88.30 50.04 86.69 C49.88 85.09 49.92 84.93 50.15 83.30 C50.39 81.67 51.09 78.75 51.46 76.89 C51.83 75.03 52.24 73.53 52.35 72.14 C52.46 70.76 52.48 70.16 52.11 68.58 C51.75 67.00 50.93 64.63 50.15 62.65 C49.38 60.67 48.23 58.89 47.48 56.71 C46.74 54.54 45.96 51.57 45.70 49.59 C45.45 47.61 45.64 46.62 45.94 44.84 C46.24 43.06 46.73 40.89 47.48 38.91 C48.24 36.93 49.56 34.66 50.45 32.97 C51.34 31.29 52.13 30.20 52.83 28.82 C53.52 27.43 54.31 25.36 54.61 24.66 Z" fill="#000000" stroke="#1a1a1a" stroke-width="0.65" stroke-linejoin="round"/>
<circle cx="58.50" cy="60.30" r="0.5" fill="#ffffff" fill-opacity="0.65"/>
<path d="M93.36 20.22 C93.36 20.57 93.36 20.22 93.36 22.30 C93.36 24.38 93.36 29.22 93.36 32.69 C93.36 36.15 93.32 39.61 93.36 43.07 C93.39 46.53 93.46 50.00 93.56 53.46 C93.67 56.92 93.74 60.38 93.98 63.84 C94.22 67.30 94.57 70.77 95.02 74.23 C95.47 77.69 96.19 81.15 96.68 84.61 C97.16 88.08 97.65 91.88 97.93 95.00 C98.20 98.12 98.34 100.54 98.34 103.31 C98.34 106.08 98.20 108.85 97.93 111.62 C97.65 114.39 97.13 117.16 96.68 119.93 C96.23 122.70 95.64 125.46 95.23 128.23 C94.81 131.00 94.46 133.43 94.19 136.54 C93.91 139.66 93.70 143.47 93.56 146.93 C93.42 150.39 93.42 154.75 93.36 157.31 C93.29 159.88 93.32 159.74 93.15 162.30 C92.97 164.86 92.56 169.22 92.32 172.69 C92.07 176.15 91.83 179.61 91.69 183.07 C91.56 186.53 91.42 190.00 91.49 193.46 C91.56 196.92 91.94 200.38 92.11 203.84 C92.28 207.30 92.46 211.29 92.52 214.23 C92.59 217.17 92.52 220.29 92.52 221.50 L88.48 221.50 C88.48 220.29 88.41 217.17 88.48 214.23 C88.54 211.29 88.72 207.30 88.89 203.84 C89.06 200.38 89.44 196.92 89.51 193.46 C89.58 190.00 89.44 186.53 89.31 183.07 C89.17 179.61 88.93 176.15 88.68 172.69 C88.44 169.22 88.03 164.86 87.85 162.30 C87.68 159.74 87.71 159.88 87.64 157.31 C87.58 154.75 87.58 150.39 87.44 146.93 C87.30 143.47 87.09 139.66 86.81 136.54 C86.54 133.43 86.19 131.00 85.77 128.23 C85.36 125.46 84.77 122.70 84.32 119.93 C83.87 117.16 83.35 114.39 83.07 111.62 C82.80 108.85 82.66 106.08 82.66 103.31 C82.66 100.54 82.80 98.12 83.07 95.00 C83.35 91.88 83.84 88.08 84.32 84.61 C84.81 81.15 85.53 77.69 85.98 74.23 C86.43 70.77 86.78 67.30 87.02 63.84 C87.26 60.38 87.33 56.92 87.44 53.46 C87.54 50.00 87.61 46.53 87.64 43.07 C87.68 39.61 87.64 36.15 87.64 32.69 C87.64 29.22 87.64 24.38 87.64 22.30 C87.64 20.22 87.64 20.57 87.64 20.22 Z" fill="#2020DF" stroke="#1a1a1a" stroke-width="0.65" stroke-linejoin="round"/>
<line x1="90.50" y1="22.00" x2="90.50" y2="221.50" stroke="#1a1a1a" stroke-width="0.55" stroke-opacity="0.9"/>
<line x1="90.50" y1="73.20" x2="90.50" y2="126.20" stroke="#000000" stroke-width="1.50"/>
<circle cx="90.50" cy="102.30" r="0.5" fill="#ffffff" fill-opacity="0.65"/>
<path d="M123.49 151.50 C123.42 152.26 123.19 154.27 123.07 156.07 C122.95 157.87 122.74 160.57 122.76 162.30 C122.78 164.03 122.64 165.07 123.17 166.45 C123.71 167.84 124.92 169.22 125.98 170.61 C127.03 171.99 128.47 173.38 129.51 174.76 C130.55 176.15 131.59 177.53 132.21 178.92 C132.83 180.30 133.21 181.69 133.25 183.07 C133.28 184.46 132.73 185.84 132.42 187.23 C132.11 188.61 131.45 190.00 131.38 191.38 C131.31 192.76 131.66 194.15 132.00 195.53 C132.35 196.92 133.01 198.30 133.46 199.69 C133.91 201.07 134.39 202.11 134.70 203.84 C135.01 205.57 135.36 208.00 135.33 210.07 C135.29 212.15 134.95 214.23 134.50 216.31 C134.05 218.38 133.28 220.46 132.63 222.54 C131.97 224.61 131.24 226.69 130.55 228.77 C129.86 230.85 129.09 232.92 128.47 235.00 C127.85 237.08 127.29 239.15 126.81 241.23 C126.33 243.31 125.81 245.39 125.56 247.46 C125.32 249.54 125.29 251.62 125.36 253.69 C125.42 255.77 125.84 258.19 125.98 259.93 C126.12 261.66 126.19 262.97 126.19 264.08 C126.19 265.19 126.01 266.16 125.98 266.57 L119.02 266.57 C118.99 266.16 118.81 265.19 118.81 264.08 C118.81 262.97 118.88 261.66 119.02 259.93 C119.16 258.19 119.58 255.77 119.64 253.69 C119.71 251.62 119.68 249.54 119.44 247.46 C119.19 245.39 118.67 243.31 118.19 241.23 C117.71 239.15 117.15 237.08 116.53 235.00 C115.91 232.92 115.14 230.85 114.45 228.77 C113.76 226.69 113.03 224.61 112.37 222.54 C111.72 220.46 110.95 218.38 110.50 216.31 C110.05 214.23 109.71 212.15 109.67 210.07 C109.64 208.00 109.99 205.57 110.30 203.84 C110.61 202.11 111.09 201.07 111.54 199.69 C111.99 198.30 112.65 196.92 113.00 195.53 C113.34 194.15 113.69 192.76 113.62 191.38 C113.55 190.00 112.89 188.61 112.58 187.23 C112.27 185.84 111.72 184.46 111.75 183.07 C111.79 181.69 112.17 180.30 112.79 178.92 C113.41 177.53 114.45 176.15 115.49 174.76 C116.53 173.38 117.97 171.99 119.02 170.61 C120.08 169.22 121.29 167.84 121.83 166.45 C122.36 165.07 122.22 164.03 122.24 162.30 C122.26 160.57 122.05 157.87 121.93 156.07 C121.81 154.27 121.58 152.26 121.51 151.50 Z" fill="#107010" stroke="#1a1a1a" stroke-width="0.65" stroke-linejoin="round"/>
<line x1="122.50" y1="151.50" x2="122.50" y2="266.60" stroke="#1a1a1a" stroke-width="0.55" stroke-opacity="0.9"/>
<line x1="122.50" y1="190.30" x2="122.50" y2="228.80" stroke="#000000" stroke-width="1.50"/>
<circle cx="122.50" cy="211.50" r="0.5" fill="#ffffff" fill-opacity="0.65"/>
<path d="M157.15 20.22 C157.15 20.57 157.15 20.22 157.15 22.30 C157.15 24.38 157.11 29.22 157.15 32.69 C157.18 36.15 157.25 39.61 157.36 43.07 C157.46 46.53 157.60 50.00 157.77 53.46 C157.94 56.92 158.12 60.38 158.39 63.84 C158.67 67.30 159.09 70.77 159.43 74.23 C159.78 77.69 160.13 81.15 160.47 84.61 C160.82 88.08 161.23 91.54 161.51 95.00 C161.79 98.46 162.03 102.62 162.13 105.39 C162.24 108.16 162.28 109.19 162.13 111.62 C161.99 114.04 161.64 117.16 161.28 119.93 C160.92 122.70 160.42 125.46 159.95 128.23 C159.49 131.00 158.89 133.43 158.48 136.54 C158.06 139.66 157.70 143.47 157.44 146.93 C157.17 150.39 157.01 154.75 156.90 157.31 C156.78 159.88 156.79 159.74 156.72 162.30 C156.66 164.86 156.59 169.22 156.52 172.69 C156.45 176.15 156.31 177.88 156.31 183.07 C156.31 188.26 156.50 198.23 156.52 203.84 C156.53 209.45 156.43 214.57 156.41 216.72 L152.59 216.72 C152.57 214.57 152.47 209.45 152.48 203.84 C152.50 198.23 152.69 188.26 152.69 183.07 C152.69 177.88 152.55 176.15 152.48 172.69 C152.41 169.22 152.34 164.86 152.28 162.30 C152.21 159.74 152.22 159.88 152.10 157.31 C151.99 154.75 151.83 150.39 151.56 146.93 C151.30 143.47 150.94 139.66 150.52 136.54 C150.11 133.43 149.51 131.00 149.05 128.23 C148.58 125.46 148.08 122.70 147.72 119.93 C147.36 117.16 147.01 114.04 146.87 111.62 C146.72 109.19 146.76 108.16 146.87 105.39 C146.97 102.62 147.21 98.46 147.49 95.00 C147.77 91.54 148.18 88.08 148.53 84.61 C148.87 81.15 149.22 77.69 149.57 74.23 C149.91 70.77 150.33 67.30 150.61 63.84 C150.88 60.38 151.06 56.92 151.23 53.46 C151.40 50.00 151.54 46.53 151.64 43.07 C151.75 39.61 151.82 36.15 151.85 32.69 C151.89 29.22 151.85 24.38 151.85 22.30 C151.85 20.22 151.85 20.57 151.85 20.22 Z" fill="#56CABF" stroke="#1a1a1a" stroke-width="0.65" stroke-linejoin="round"/>
<line x1="154.50" y1="22.00" x2="154.50" y2="216.70" stroke="#1a1a1a" stroke-width="0.55" stroke-opacity="0.9"/>
<line x1="154.50" y1="74.20" x2="154.50" y2="134.50" stroke="#000000" stroke-width="1.50"/>
<circle cx="154.50" cy="105.80" r="0.5" fill="#ffffff" fill-opacity="0.65"/>
<path d="M187.49 20.22 C187.49 20.57 187.45 18.49 187.49 22.30 C187.52 26.11 187.59 36.15 187.69 43.07 C187.80 50.00 187.97 58.65 188.11 63.84 C188.25 69.04 188.35 70.77 188.52 74.23 C188.70 77.69 188.94 81.15 189.15 84.61 C189.36 88.08 189.62 91.54 189.77 95.00 C189.92 98.46 189.96 101.92 190.03 105.39 C190.09 108.85 190.07 112.31 190.17 115.77 C190.26 119.23 190.46 122.70 190.60 126.16 C190.75 129.62 190.90 133.08 191.06 136.54 C191.22 140.00 191.39 143.47 191.57 146.93 C191.74 150.39 191.98 154.75 192.09 157.31 C192.20 159.88 192.34 159.74 192.23 162.30 C192.12 164.86 191.74 169.22 191.43 172.69 C191.13 176.15 190.74 179.61 190.39 183.07 C190.05 186.53 189.60 190.00 189.36 193.46 C189.11 196.92 188.94 200.38 188.94 203.84 C188.94 207.30 189.25 210.77 189.36 214.23 C189.46 217.69 189.60 221.15 189.56 224.61 C189.53 228.08 189.32 231.54 189.15 235.00 C188.97 238.46 188.73 242.27 188.52 245.39 C188.32 248.50 188.04 251.69 187.90 253.69 C187.76 255.70 187.73 256.81 187.69 257.43 L185.31 257.43 C185.27 256.81 185.24 255.70 185.10 253.69 C184.96 251.69 184.68 248.50 184.48 245.39 C184.27 242.27 184.03 238.46 183.85 235.00 C183.68 231.54 183.47 228.08 183.44 224.61 C183.40 221.15 183.54 217.69 183.64 214.23 C183.75 210.77 184.06 207.30 184.06 203.84 C184.06 200.38 183.89 196.92 183.64 193.46 C183.40 190.00 182.95 186.53 182.61 183.07 C182.26 179.61 181.87 176.15 181.57 172.69 C181.26 169.22 180.88 164.86 180.77 162.30 C180.66 159.74 180.80 159.88 180.91 157.31 C181.02 154.75 181.26 150.39 181.43 146.93 C181.61 143.47 181.78 140.00 181.94 136.54 C182.10 133.08 182.25 129.62 182.40 126.16 C182.54 122.70 182.74 119.23 182.83 115.77 C182.93 112.31 182.91 108.85 182.97 105.39 C183.04 101.92 183.08 98.46 183.23 95.00 C183.38 91.54 183.64 88.08 183.85 84.61 C184.06 81.15 184.30 77.69 184.48 74.23 C184.65 70.77 184.75 69.04 184.89 63.84 C185.03 58.65 185.20 50.00 185.31 43.07 C185.41 36.15 185.48 26.11 185.51 22.30 C185.55 18.49 185.51 20.57 185.51 20.22 Z" fill="#DF2020" stroke="#1a1a1a" stroke-width="0.65" stroke-linejoin="round"/>
<line x1="186.50" y1="22.00" x2="186.50" y2="257.40" stroke="#1a1a1a" stroke-width="0.55" stroke-opacity="0.9"/>
<line x1="186.50" y1="107.00" x2="186.50" y2="189.70" stroke="#000000" stroke-width="1.50"/>
<circle cx="186.50" cy="153.20" r="0.5" fill="#ffffff" fill-opacity="0.65"/>
<path d="M219.49 20.22 C219.49 20.57 219.45 18.49 219.49 22.30 C219.52 26.11 219.62 36.15 219.69 43.07 C219.76 50.00 219.80 56.92 219.90 63.84 C220.01 70.77 220.21 79.42 220.32 84.61 C220.42 89.81 220.42 91.54 220.52 95.00 C220.63 98.46 220.77 101.92 220.94 105.39 C221.11 108.85 221.36 112.31 221.56 115.77 C221.77 119.23 221.98 122.70 222.19 126.16 C222.39 129.62 222.57 133.08 222.81 136.54 C223.05 140.00 223.40 143.47 223.64 146.93 C223.88 150.39 224.13 154.75 224.26 157.31 C224.40 159.88 224.44 159.74 224.47 162.30 C224.51 164.86 224.58 169.22 224.47 172.69 C224.37 176.15 224.13 179.61 223.85 183.07 C223.57 186.53 223.16 190.00 222.81 193.46 C222.46 196.92 222.08 200.38 221.77 203.84 C221.46 207.30 221.15 210.77 220.94 214.23 C220.73 217.69 220.63 221.15 220.52 224.61 C220.42 228.08 220.35 231.54 220.32 235.00 C220.28 238.46 220.35 241.92 220.32 245.39 C220.28 248.85 220.18 252.31 220.11 255.77 C220.04 259.23 219.97 263.04 219.90 266.16 C219.83 269.27 219.76 272.56 219.69 274.47 C219.62 276.37 219.52 277.06 219.49 277.58 L217.51 277.58 C217.48 277.06 217.38 276.37 217.31 274.47 C217.24 272.56 217.17 269.27 217.10 266.16 C217.03 263.04 216.96 259.23 216.89 255.77 C216.82 252.31 216.72 248.85 216.68 245.39 C216.65 241.92 216.72 238.46 216.68 235.00 C216.65 231.54 216.58 228.08 216.48 224.61 C216.37 221.15 216.27 217.69 216.06 214.23 C215.85 210.77 215.54 207.30 215.23 203.84 C214.92 200.38 214.54 196.92 214.19 193.46 C213.84 190.00 213.43 186.53 213.15 183.07 C212.87 179.61 212.63 176.15 212.53 172.69 C212.42 169.22 212.49 164.86 212.53 162.30 C212.56 159.74 212.60 159.88 212.74 157.31 C212.87 154.75 213.12 150.39 213.36 146.93 C213.60 143.47 213.95 140.00 214.19 136.54 C214.43 133.08 214.61 129.62 214.81 126.16 C215.02 122.70 215.23 119.23 215.44 115.77 C215.64 112.31 215.89 108.85 216.06 105.39 C216.23 101.92 216.37 98.46 216.48 95.00 C216.58 91.54 216.58 89.81 216.68 84.61 C216.79 79.42 216.99 70.77 217.10 63.84 C217.20 56.92 217.24 50.00 217.31 43.07 C217.38 36.15 217.48 26.11 217.51 22.30 C217.55 18.49 217.51 20.57 217.51 20.22 Z" fill="#BB6D35" stroke="#1a1a1a" stroke-width="0.65" stroke-linejoin="round"/>
<line x1="218.50" y1="22.00" x2="218.50" y2="277.60" stroke="#1a1a1a" stroke-width="0.55" stroke-opacity="0.9"/>
<line x1="218.50" y1="119.50" x2="218.50" y2="191.40" stroke="#000000" stroke-width="1.50"/>
<circle cx="218.50" cy="161.50" r="0.5" fill="#ffffff" fill-opacity="0.65"/>
<path d="M251.49 20.22 C251.49 20.57 251.45 18.49 251.49 22.30 C251.52 26.11 251.62 36.15 251.69 43.07 C251.76 50.00 251.83 56.92 251.90 63.84 C251.97 70.77 252.04 79.42 252.11 84.61 C252.18 89.81 252.21 91.54 252.32 95.00 C252.42 98.46 252.59 101.92 252.73 105.39 C252.87 108.85 252.97 112.31 253.15 115.77 C253.32 119.23 253.53 122.70 253.77 126.16 C254.01 129.62 254.29 133.08 254.60 136.54 C254.91 140.00 255.33 143.47 255.64 146.93 C255.95 150.39 256.30 154.75 256.47 157.31 C256.64 159.88 256.68 159.74 256.68 162.30 C256.68 164.86 256.58 169.22 256.47 172.69 C256.37 176.15 256.26 179.61 256.06 183.07 C255.85 186.53 255.54 190.00 255.23 193.46 C254.91 196.92 254.53 200.38 254.19 203.84 C253.84 207.30 253.49 210.77 253.15 214.23 C252.80 217.69 252.42 221.15 252.11 224.61 C251.80 228.08 251.49 231.54 251.28 235.00 C251.07 238.46 250.95 241.92 250.86 245.39 C250.78 248.85 250.78 252.31 250.76 255.77 C250.74 259.23 250.76 261.83 250.76 266.16 C250.76 270.48 250.76 279.14 250.76 281.74 L250.24 281.74 C250.24 279.14 250.24 270.48 250.24 266.16 C250.24 261.83 250.26 259.23 250.24 255.77 C250.22 252.31 250.22 248.85 250.14 245.39 C250.05 241.92 249.93 238.46 249.72 235.00 C249.51 231.54 249.20 228.08 248.89 224.61 C248.58 221.15 248.20 217.69 247.85 214.23 C247.51 210.77 247.16 207.30 246.81 203.84 C246.47 200.38 246.09 196.92 245.77 193.46 C245.46 190.00 245.15 186.53 244.94 183.07 C244.74 179.61 244.63 176.15 244.53 172.69 C244.42 169.22 244.32 164.86 244.32 162.30 C244.32 159.74 244.36 159.88 244.53 157.31 C244.70 154.75 245.05 150.39 245.36 146.93 C245.67 143.47 246.09 140.00 246.40 136.54 C246.71 133.08 246.99 129.62 247.23 126.16 C247.47 122.70 247.68 119.23 247.85 115.77 C248.03 112.31 248.13 108.85 248.27 105.39 C248.41 101.92 248.58 98.46 248.68 95.00 C248.79 91.54 248.82 89.81 248.89 84.61 C248.96 79.42 249.03 70.77 249.10 63.84 C249.17 56.92 249.24 50.00 249.31 43.07 C249.38 36.15 249.48 26.11 249.51 22.30 C249.55 18.49 249.51 20.57 249.51 20.22 Z" fill="#E23191" stroke="#1a1a1a" stroke-width="0.65" stroke-linejoin="round"/>
<line x1="250.50" y1="22.00" x2="250.50" y2="281.70" stroke="#1a1a1a" stroke-width="0.55" stroke-opacity="0.9"/>
<line x1="250.50" y1="110.60" x2="250.50" y2="186.80" stroke="#000000" stroke-width="1.50"/>
<circle cx="250.50" cy="160.50" r="0.5" fill="#ffffff" fill-opacity="0.65"/>
<path d="M283.28 20.22 C283.28 20.57 283.21 18.49 283.28 22.30 C283.35 26.11 283.56 36.15 283.69 43.07 C283.83 50.00 283.97 56.92 284.11 63.84 C284.25 70.77 284.39 77.69 284.52 84.61 C284.66 91.54 284.80 100.19 284.94 105.39 C285.08 110.58 285.18 112.31 285.36 115.77 C285.53 119.23 285.81 122.70 285.98 126.16 C286.15 129.62 286.26 133.08 286.37 136.54 C286.47 140.00 286.50 143.47 286.61 146.93 C286.73 150.39 286.94 154.75 287.06 157.31 C287.18 159.88 287.33 159.74 287.33 162.30 C287.33 164.86 287.16 169.22 287.07 172.69 C286.97 176.15 286.90 179.61 286.76 183.07 C286.61 186.53 286.37 190.00 286.21 193.46 C286.04 196.92 285.85 200.38 285.77 203.84 C285.69 207.30 285.72 210.77 285.74 214.23 C285.77 217.69 285.86 221.15 285.91 224.61 C285.97 228.08 286.02 231.54 286.08 235.00 C286.13 238.46 286.26 241.92 286.25 245.39 C286.23 248.85 286.10 252.31 285.97 255.77 C285.84 259.23 285.67 263.04 285.47 266.16 C285.27 269.27 284.93 272.39 284.77 274.47 C284.62 276.54 284.57 277.93 284.53 278.62 L280.47 278.62 C280.43 277.93 280.38 276.54 280.23 274.47 C280.07 272.39 279.73 269.27 279.53 266.16 C279.33 263.04 279.16 259.23 279.03 255.77 C278.90 252.31 278.77 248.85 278.75 245.39 C278.74 241.92 278.87 238.46 278.92 235.00 C278.98 231.54 279.03 228.08 279.09 224.61 C279.14 221.15 279.23 217.69 279.26 214.23 C279.28 210.77 279.31 207.30 279.23 203.84 C279.15 200.38 278.96 196.92 278.79 193.46 C278.63 190.00 278.39 186.53 278.24 183.07 C278.10 179.61 278.03 176.15 277.93 172.69 C277.84 169.22 277.67 164.86 277.67 162.30 C277.67 159.74 277.82 159.88 277.94 157.31 C278.06 154.75 278.27 150.39 278.39 146.93 C278.50 143.47 278.53 140.00 278.63 136.54 C278.74 133.08 278.85 129.62 279.02 126.16 C279.19 122.70 279.47 119.23 279.64 115.77 C279.82 112.31 279.92 110.58 280.06 105.39 C280.20 100.19 280.34 91.54 280.48 84.61 C280.61 77.69 280.75 70.77 280.89 63.84 C281.03 56.92 281.17 50.00 281.31 43.07 C281.44 36.15 281.65 26.11 281.72 22.30 C281.79 18.49 281.72 20.57 281.72 20.22 Z" fill="#94C9DE" stroke="#1a1a1a" stroke-width="0.65" stroke-linejoin="round"/>
<line x1="282.50" y1="22.00" x2="282.50" y2="278.60" stroke="#1a1a1a" stroke-width="0.55" stroke-opacity="0.9"/>
<line x1="282.50" y1="120.30" x2="282.50" y2="230.80" stroke="#000000" stroke-width="1.50"/>
<circle cx="282.50" cy="156.30" r="0.5" fill="#ffffff" fill-opacity="0.65"/>
<path d="M314.76 20.22 C314.76 20.57 314.74 18.49 314.76 22.30 C314.78 26.11 314.85 36.15 314.86 43.07 C314.88 50.00 314.88 56.92 314.86 63.84 C314.85 70.77 314.78 77.69 314.76 84.61 C314.74 91.54 314.74 98.46 314.76 105.39 C314.78 112.31 314.81 119.23 314.86 126.16 C314.92 133.08 315.00 140.90 315.07 146.93 C315.14 152.95 315.21 156.28 315.28 162.30 C315.35 168.32 315.35 176.15 315.49 183.07 C315.62 190.00 315.94 198.65 316.11 203.84 C316.28 209.04 316.35 210.77 316.52 214.23 C316.70 217.69 316.97 221.15 317.15 224.61 C317.32 228.08 317.39 231.54 317.56 235.00 C317.74 238.46 317.98 241.92 318.19 245.39 C318.39 248.85 318.60 252.31 318.81 255.77 C319.02 259.23 319.23 262.70 319.43 266.16 C319.64 269.62 319.85 273.08 320.06 276.54 C320.26 280.00 320.51 283.47 320.68 286.93 C320.85 290.39 320.99 294.75 321.09 297.31 C321.20 299.88 321.27 301.47 321.30 302.30 L307.70 302.30 C307.73 301.47 307.80 299.88 307.91 297.31 C308.01 294.75 308.15 290.39 308.32 286.93 C308.49 283.47 308.74 280.00 308.94 276.54 C309.15 273.08 309.36 269.62 309.57 266.16 C309.77 262.70 309.98 259.23 310.19 255.77 C310.40 252.31 310.61 248.85 310.81 245.39 C311.02 241.92 311.26 238.46 311.44 235.00 C311.61 231.54 311.68 228.08 311.85 224.61 C312.03 221.15 312.30 217.69 312.48 214.23 C312.65 210.77 312.72 209.04 312.89 203.84 C313.06 198.65 313.38 190.00 313.51 183.07 C313.65 176.15 313.65 168.32 313.72 162.30 C313.79 156.28 313.86 152.95 313.93 146.93 C314.00 140.90 314.08 133.08 314.14 126.16 C314.19 119.23 314.22 112.31 314.24 105.39 C314.26 98.46 314.26 91.54 314.24 84.61 C314.22 77.69 314.15 70.77 314.14 63.84 C314.12 56.92 314.12 50.00 314.14 43.07 C314.15 36.15 314.22 26.11 314.24 22.30 C314.26 18.49 314.24 20.57 314.24 20.22 Z" fill="#701010" stroke="#1a1a1a" stroke-width="0.65" stroke-linejoin="round"/>
<line x1="314.50" y1="114.60" x2="314.50" y2="302.00" stroke="#1a1a1a" stroke-width="0.55" stroke-opacity="0.9"/>
<line x1="314.50" y1="227.10" x2="314.50" y2="302.00" stroke="#000000" stroke-width="1.50"/>
<circle cx="314.50" cy="272.40" r="0.5" fill="#ffffff" fill-opacity="0.65"/>
</g>
<text class="ti" x="186.00" y="18.00" text-anchor="middle">Stage 4: Species</text>
<text class="lb" x="186.00" y="330.10" text-anchor="middle">Algorithms</text>
<text class="lb" transform="translate(14.00 162.80) rotate(-90)" text-anchor="middle">AUC ROC Score</text>
</g>
</svg></body></html>
